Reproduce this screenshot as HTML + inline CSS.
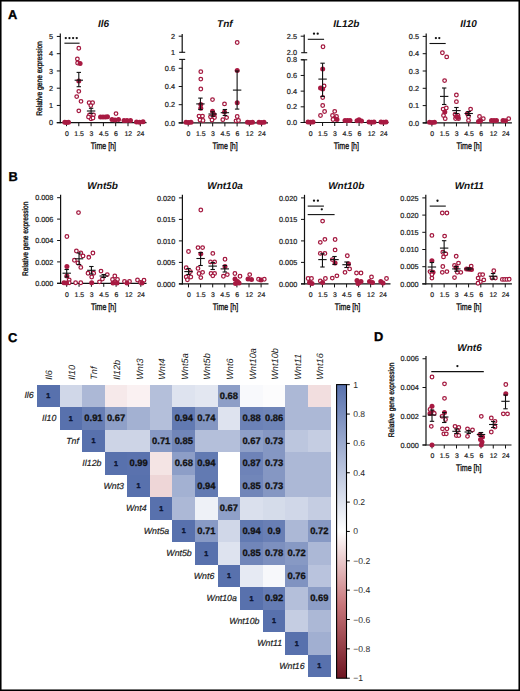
<!DOCTYPE html>
<html><head><meta charset="utf-8"><style>
html,body{margin:0;padding:0;background:#fff;width:520px;height:691px;overflow:hidden;}
svg text{font-family:"Liberation Sans",sans-serif;text-rendering:geometricPrecision;}
</style></head><body>
<svg width="520" height="691" viewBox="0 0 520 691" style="position:absolute;left:0;top:0;font-family:'Liberation Sans',sans-serif">
<rect x="0" y="0" width="520" height="691" fill="#fff"/>
<text transform="translate(8.00,18.80)" font-size="12.8" text-anchor="start" font-weight="bold" font-style="normal" fill="#000" stroke="#000" stroke-width="0.35">A</text>
<text transform="translate(8.40,180.60)" font-size="12.8" text-anchor="start" font-weight="bold" font-style="normal" fill="#000" stroke="#000" stroke-width="0.35">B</text>
<text transform="translate(8.00,341.60)" font-size="12.8" text-anchor="start" font-weight="bold" font-style="normal" fill="#000" stroke="#000" stroke-width="0.35">C</text>
<text transform="translate(374.00,341.40)" font-size="12.8" text-anchor="start" font-weight="bold" font-style="normal" fill="#000" stroke="#000" stroke-width="0.35">D</text>
<line x1="60.30" y1="33.50" x2="60.30" y2="123.20" stroke="#111" stroke-width="1.2"/>
<line x1="56.80" y1="122.70" x2="146.50" y2="122.70" stroke="#111" stroke-width="1.2"/>
<line x1="56.80" y1="122.70" x2="60.30" y2="122.70" stroke="#111" stroke-width="1.0"/>
<text transform="translate(53.10,125.30)" font-size="7.3" text-anchor="end" font-weight="normal" font-style="normal" fill="#222" stroke="#222" stroke-width="0.2">0</text>
<line x1="56.80" y1="105.45" x2="60.30" y2="105.45" stroke="#111" stroke-width="1.0"/>
<text transform="translate(53.10,108.05)" font-size="7.3" text-anchor="end" font-weight="normal" font-style="normal" fill="#222" stroke="#222" stroke-width="0.2">1</text>
<line x1="56.80" y1="88.20" x2="60.30" y2="88.20" stroke="#111" stroke-width="1.0"/>
<text transform="translate(53.10,90.80)" font-size="7.3" text-anchor="end" font-weight="normal" font-style="normal" fill="#222" stroke="#222" stroke-width="0.2">2</text>
<line x1="56.80" y1="70.95" x2="60.30" y2="70.95" stroke="#111" stroke-width="1.0"/>
<text transform="translate(53.10,73.55)" font-size="7.3" text-anchor="end" font-weight="normal" font-style="normal" fill="#222" stroke="#222" stroke-width="0.2">3</text>
<line x1="56.80" y1="53.70" x2="60.30" y2="53.70" stroke="#111" stroke-width="1.0"/>
<text transform="translate(53.10,56.30)" font-size="7.3" text-anchor="end" font-weight="normal" font-style="normal" fill="#222" stroke="#222" stroke-width="0.2">4</text>
<line x1="56.80" y1="36.45" x2="60.30" y2="36.45" stroke="#111" stroke-width="1.0"/>
<text transform="translate(53.10,39.05)" font-size="7.3" text-anchor="end" font-weight="normal" font-style="normal" fill="#222" stroke="#222" stroke-width="0.2">5</text>
<line x1="66.50" y1="122.70" x2="66.50" y2="126.20" stroke="#111" stroke-width="1.0"/>
<text transform="translate(66.80,136.00)" font-size="6.9" text-anchor="middle" font-weight="normal" font-style="normal" fill="#222" stroke="#222" stroke-width="0.2">0</text>
<line x1="78.80" y1="122.70" x2="78.80" y2="126.20" stroke="#111" stroke-width="1.0"/>
<text transform="translate(79.10,136.00)" font-size="6.9" text-anchor="middle" font-weight="normal" font-style="normal" fill="#222" stroke="#222" stroke-width="0.2">1.5</text>
<line x1="91.10" y1="122.70" x2="91.10" y2="126.20" stroke="#111" stroke-width="1.0"/>
<text transform="translate(91.40,136.00)" font-size="6.9" text-anchor="middle" font-weight="normal" font-style="normal" fill="#222" stroke="#222" stroke-width="0.2">3</text>
<line x1="103.40" y1="122.70" x2="103.40" y2="126.20" stroke="#111" stroke-width="1.0"/>
<text transform="translate(103.70,136.00)" font-size="6.9" text-anchor="middle" font-weight="normal" font-style="normal" fill="#222" stroke="#222" stroke-width="0.2">4.5</text>
<line x1="115.70" y1="122.70" x2="115.70" y2="126.20" stroke="#111" stroke-width="1.0"/>
<text transform="translate(116.00,136.00)" font-size="6.9" text-anchor="middle" font-weight="normal" font-style="normal" fill="#222" stroke="#222" stroke-width="0.2">6</text>
<line x1="128.00" y1="122.70" x2="128.00" y2="126.20" stroke="#111" stroke-width="1.0"/>
<text transform="translate(128.30,136.00)" font-size="6.9" text-anchor="middle" font-weight="normal" font-style="normal" fill="#222" stroke="#222" stroke-width="0.2">12</text>
<line x1="140.30" y1="122.70" x2="140.30" y2="126.20" stroke="#111" stroke-width="1.0"/>
<text transform="translate(140.60,136.00)" font-size="6.9" text-anchor="middle" font-weight="normal" font-style="normal" fill="#222" stroke="#222" stroke-width="0.2">24</text>
<text transform="translate(103.40,149.00) scale(0.745,1)" font-size="9.5" text-anchor="middle" font-weight="normal" font-style="normal" fill="#111" stroke="#111" stroke-width="0.35">Time [h]</text>
<text transform="translate(103.50,27.00)" font-size="10" text-anchor="middle" font-weight="bold" font-style="italic" fill="#111" >Il6</text>
<text transform="translate(42.40,78.50) rotate(-90) scale(0.83,1)" font-size="8.0" text-anchor="middle" font-weight="normal" font-style="normal" fill="#111" stroke="#111" stroke-width="0.35">Relative gene expression</text>
<line x1="64.40" y1="43.20" x2="79.60" y2="43.20" stroke="#111" stroke-width="1.1"/>
<circle cx="65.80" cy="38.10" r="1.15" fill="#111"/>
<circle cx="69.45" cy="38.10" r="1.15" fill="#111"/>
<circle cx="73.10" cy="38.10" r="1.15" fill="#111"/>
<circle cx="76.75" cy="38.10" r="1.15" fill="#111"/>
<circle cx="64.80" cy="122.30" r="2.5" fill="#a81a42"/>
<circle cx="66.60" cy="122.50" r="2.5" fill="#a81a42"/>
<circle cx="68.50" cy="122.20" r="2.5" fill="#a81a42"/>
<circle cx="78.80" cy="48.20" r="1.8" fill="#fff" stroke="#a3173e" stroke-width="1.25"/>
<circle cx="77.40" cy="58.90" r="1.8" fill="#fff" stroke="#a3173e" stroke-width="1.25"/>
<circle cx="77.60" cy="63.00" r="1.8" fill="#fff" stroke="#a3173e" stroke-width="1.25"/>
<circle cx="78.80" cy="91.30" r="1.8" fill="#fff" stroke="#a3173e" stroke-width="1.25"/>
<circle cx="76.70" cy="96.60" r="1.8" fill="#fff" stroke="#a3173e" stroke-width="1.25"/>
<circle cx="81.00" cy="101.30" r="1.8" fill="#fff" stroke="#a3173e" stroke-width="1.25"/>
<circle cx="78.80" cy="110.80" r="1.8" fill="#fff" stroke="#a3173e" stroke-width="1.25"/>
<circle cx="80.10" cy="63.40" r="2.5" fill="#a81a42"/>
<circle cx="78.80" cy="81.00" r="2.5" fill="#a81a42"/>
<line x1="74.60" y1="80.20" x2="83.00" y2="80.20" stroke="#111" stroke-width="1.1"/>
<line x1="78.80" y1="72.40" x2="78.80" y2="86.70" stroke="#111" stroke-width="1.1"/>
<line x1="76.60" y1="72.40" x2="81.00" y2="72.40" stroke="#111" stroke-width="1.1"/>
<line x1="76.60" y1="86.70" x2="81.00" y2="86.70" stroke="#111" stroke-width="1.1"/>
<circle cx="89.10" cy="102.70" r="1.8" fill="#fff" stroke="#a3173e" stroke-width="1.25"/>
<circle cx="92.60" cy="102.70" r="1.8" fill="#fff" stroke="#a3173e" stroke-width="1.25"/>
<circle cx="90.80" cy="105.60" r="1.8" fill="#fff" stroke="#a3173e" stroke-width="1.25"/>
<circle cx="89.50" cy="114.80" r="1.8" fill="#fff" stroke="#a3173e" stroke-width="1.25"/>
<circle cx="93.50" cy="114.80" r="1.8" fill="#fff" stroke="#a3173e" stroke-width="1.25"/>
<circle cx="91.00" cy="118.80" r="1.8" fill="#fff" stroke="#a3173e" stroke-width="1.25"/>
<circle cx="88.50" cy="117.00" r="1.8" fill="#fff" stroke="#a3173e" stroke-width="1.25"/>
<circle cx="93.00" cy="118.00" r="1.8" fill="#fff" stroke="#a3173e" stroke-width="1.25"/>
<line x1="86.90" y1="111.00" x2="95.30" y2="111.00" stroke="#111" stroke-width="1.1"/>
<line x1="91.10" y1="108.30" x2="91.10" y2="113.30" stroke="#111" stroke-width="1.1"/>
<line x1="88.90" y1="108.30" x2="93.30" y2="108.30" stroke="#111" stroke-width="1.1"/>
<line x1="88.90" y1="113.30" x2="93.30" y2="113.30" stroke="#111" stroke-width="1.1"/>
<circle cx="100.50" cy="117.00" r="2.5" fill="#a81a42"/>
<circle cx="103.00" cy="117.00" r="2.5" fill="#a81a42"/>
<circle cx="105.50" cy="117.00" r="2.5" fill="#a81a42"/>
<circle cx="107.50" cy="116.70" r="2.5" fill="#a81a42"/>
<circle cx="116.00" cy="113.60" r="1.8" fill="#fff" stroke="#a3173e" stroke-width="1.25"/>
<circle cx="112.00" cy="119.60" r="2.5" fill="#a81a42"/>
<circle cx="115.00" cy="120.00" r="2.5" fill="#a81a42"/>
<circle cx="118.50" cy="119.60" r="2.5" fill="#a81a42"/>
<circle cx="124.00" cy="120.60" r="2.5" fill="#a81a42"/>
<circle cx="127.00" cy="120.60" r="2.5" fill="#a81a42"/>
<circle cx="130.50" cy="120.40" r="2.5" fill="#a81a42"/>
<circle cx="136.50" cy="122.00" r="2.5" fill="#a81a42"/>
<circle cx="139.50" cy="122.20" r="2.5" fill="#a81a42"/>
<circle cx="143.00" cy="121.80" r="2.5" fill="#a81a42"/>
<line x1="182.20" y1="34.00" x2="182.20" y2="52.50" stroke="#111" stroke-width="1.2"/>
<line x1="182.20" y1="59.40" x2="182.20" y2="123.40" stroke="#111" stroke-width="1.2"/>
<line x1="179.20" y1="52.30" x2="185.20" y2="52.30" stroke="#111" stroke-width="1.1"/>
<line x1="179.20" y1="59.40" x2="185.20" y2="59.40" stroke="#111" stroke-width="1.1"/>
<line x1="178.70" y1="36.20" x2="182.20" y2="36.20" stroke="#111" stroke-width="1.0"/>
<text transform="translate(175.00,38.60)" font-size="7.3" text-anchor="end" font-weight="normal" font-style="normal" fill="#222" stroke="#222" stroke-width="0.2">2</text>
<text transform="translate(175.00,54.60)" font-size="7.3" text-anchor="end" font-weight="normal" font-style="normal" fill="#222" stroke="#222" stroke-width="0.2">1</text>
<line x1="178.70" y1="122.90" x2="268.00" y2="122.90" stroke="#111" stroke-width="1.2"/>
<line x1="178.70" y1="122.90" x2="182.20" y2="122.90" stroke="#111" stroke-width="1.0"/>
<text transform="translate(175.00,125.50)" font-size="7.3" text-anchor="end" font-weight="normal" font-style="normal" fill="#222" stroke="#222" stroke-width="0.2">0.0</text>
<line x1="178.70" y1="104.70" x2="182.20" y2="104.70" stroke="#111" stroke-width="1.0"/>
<text transform="translate(175.00,107.30)" font-size="7.3" text-anchor="end" font-weight="normal" font-style="normal" fill="#222" stroke="#222" stroke-width="0.2">0.2</text>
<line x1="178.70" y1="86.50" x2="182.20" y2="86.50" stroke="#111" stroke-width="1.0"/>
<text transform="translate(175.00,89.10)" font-size="7.3" text-anchor="end" font-weight="normal" font-style="normal" fill="#222" stroke="#222" stroke-width="0.2">0.4</text>
<line x1="178.70" y1="68.30" x2="182.20" y2="68.30" stroke="#111" stroke-width="1.0"/>
<text transform="translate(175.00,70.90)" font-size="7.3" text-anchor="end" font-weight="normal" font-style="normal" fill="#222" stroke="#222" stroke-width="0.2">0.6</text>
<line x1="188.20" y1="122.90" x2="188.20" y2="126.40" stroke="#111" stroke-width="1.0"/>
<text transform="translate(188.50,136.00)" font-size="6.9" text-anchor="middle" font-weight="normal" font-style="normal" fill="#222" stroke="#222" stroke-width="0.2">0</text>
<line x1="200.43" y1="122.90" x2="200.43" y2="126.40" stroke="#111" stroke-width="1.0"/>
<text transform="translate(200.73,136.00)" font-size="6.9" text-anchor="middle" font-weight="normal" font-style="normal" fill="#222" stroke="#222" stroke-width="0.2">1.5</text>
<line x1="212.66" y1="122.90" x2="212.66" y2="126.40" stroke="#111" stroke-width="1.0"/>
<text transform="translate(212.96,136.00)" font-size="6.9" text-anchor="middle" font-weight="normal" font-style="normal" fill="#222" stroke="#222" stroke-width="0.2">3</text>
<line x1="224.89" y1="122.90" x2="224.89" y2="126.40" stroke="#111" stroke-width="1.0"/>
<text transform="translate(225.19,136.00)" font-size="6.9" text-anchor="middle" font-weight="normal" font-style="normal" fill="#222" stroke="#222" stroke-width="0.2">4.5</text>
<line x1="237.12" y1="122.90" x2="237.12" y2="126.40" stroke="#111" stroke-width="1.0"/>
<text transform="translate(237.42,136.00)" font-size="6.9" text-anchor="middle" font-weight="normal" font-style="normal" fill="#222" stroke="#222" stroke-width="0.2">6</text>
<line x1="249.35" y1="122.90" x2="249.35" y2="126.40" stroke="#111" stroke-width="1.0"/>
<text transform="translate(249.65,136.00)" font-size="6.9" text-anchor="middle" font-weight="normal" font-style="normal" fill="#222" stroke="#222" stroke-width="0.2">12</text>
<line x1="261.58" y1="122.90" x2="261.58" y2="126.40" stroke="#111" stroke-width="1.0"/>
<text transform="translate(261.88,136.00)" font-size="6.9" text-anchor="middle" font-weight="normal" font-style="normal" fill="#222" stroke="#222" stroke-width="0.2">24</text>
<text transform="translate(225.10,149.00) scale(0.745,1)" font-size="9.5" text-anchor="middle" font-weight="normal" font-style="normal" fill="#111" stroke="#111" stroke-width="0.35">Time [h]</text>
<text transform="translate(224.80,27.00)" font-size="10" text-anchor="middle" font-weight="bold" font-style="italic" fill="#111" >Tnf</text>
<circle cx="186.00" cy="122.30" r="2.5" fill="#a81a42"/>
<circle cx="188.50" cy="122.50" r="2.5" fill="#a81a42"/>
<circle cx="191.00" cy="122.20" r="2.5" fill="#a81a42"/>
<circle cx="200.80" cy="71.70" r="1.8" fill="#fff" stroke="#a3173e" stroke-width="1.25"/>
<circle cx="200.80" cy="79.10" r="1.8" fill="#fff" stroke="#a3173e" stroke-width="1.25"/>
<circle cx="200.80" cy="89.00" r="1.8" fill="#fff" stroke="#a3173e" stroke-width="1.25"/>
<circle cx="199.00" cy="116.10" r="1.8" fill="#fff" stroke="#a3173e" stroke-width="1.25"/>
<circle cx="202.50" cy="116.10" r="1.8" fill="#fff" stroke="#a3173e" stroke-width="1.25"/>
<circle cx="200.00" cy="120.00" r="1.8" fill="#fff" stroke="#a3173e" stroke-width="1.25"/>
<circle cx="203.00" cy="120.50" r="1.8" fill="#fff" stroke="#a3173e" stroke-width="1.25"/>
<circle cx="200.80" cy="104.50" r="2.5" fill="#a81a42"/>
<circle cx="200.80" cy="108.20" r="2.5" fill="#a81a42"/>
<line x1="196.23" y1="103.90" x2="204.63" y2="103.90" stroke="#111" stroke-width="1.1"/>
<line x1="200.43" y1="98.10" x2="200.43" y2="109.50" stroke="#111" stroke-width="1.1"/>
<line x1="198.23" y1="98.10" x2="202.63" y2="98.10" stroke="#111" stroke-width="1.1"/>
<line x1="198.23" y1="109.50" x2="202.63" y2="109.50" stroke="#111" stroke-width="1.1"/>
<circle cx="212.50" cy="99.60" r="1.8" fill="#fff" stroke="#a3173e" stroke-width="1.25"/>
<circle cx="210.50" cy="116.80" r="1.8" fill="#fff" stroke="#a3173e" stroke-width="1.25"/>
<circle cx="214.50" cy="117.50" r="1.8" fill="#fff" stroke="#a3173e" stroke-width="1.25"/>
<circle cx="212.00" cy="120.00" r="1.8" fill="#fff" stroke="#a3173e" stroke-width="1.25"/>
<circle cx="212.50" cy="111.30" r="2.5" fill="#a81a42"/>
<circle cx="214.00" cy="114.50" r="2.5" fill="#a81a42"/>
<line x1="208.46" y1="114.00" x2="216.86" y2="114.00" stroke="#111" stroke-width="1.1"/>
<line x1="212.66" y1="111.80" x2="212.66" y2="116.20" stroke="#111" stroke-width="1.1"/>
<line x1="210.46" y1="111.80" x2="214.86" y2="111.80" stroke="#111" stroke-width="1.1"/>
<line x1="210.46" y1="116.20" x2="214.86" y2="116.20" stroke="#111" stroke-width="1.1"/>
<circle cx="224.50" cy="103.90" r="1.8" fill="#fff" stroke="#a3173e" stroke-width="1.25"/>
<circle cx="226.60" cy="117.60" r="1.8" fill="#fff" stroke="#a3173e" stroke-width="1.25"/>
<circle cx="222.80" cy="119.70" r="1.8" fill="#fff" stroke="#a3173e" stroke-width="1.25"/>
<circle cx="224.50" cy="111.90" r="2.5" fill="#a81a42"/>
<line x1="220.69" y1="112.70" x2="229.09" y2="112.70" stroke="#111" stroke-width="1.1"/>
<line x1="224.89" y1="109.50" x2="224.89" y2="115.50" stroke="#111" stroke-width="1.1"/>
<line x1="222.69" y1="109.50" x2="227.09" y2="109.50" stroke="#111" stroke-width="1.1"/>
<line x1="222.69" y1="115.50" x2="227.09" y2="115.50" stroke="#111" stroke-width="1.1"/>
<circle cx="237.20" cy="42.50" r="1.8" fill="#fff" stroke="#a3173e" stroke-width="1.25"/>
<circle cx="237.20" cy="70.40" r="2.5" fill="#a81a42"/>
<circle cx="237.20" cy="102.80" r="2.5" fill="#a81a42"/>
<circle cx="237.20" cy="116.50" r="1.8" fill="#fff" stroke="#a3173e" stroke-width="1.25"/>
<circle cx="236.00" cy="120.80" r="1.8" fill="#fff" stroke="#a3173e" stroke-width="1.25"/>
<circle cx="238.50" cy="120.50" r="1.8" fill="#fff" stroke="#a3173e" stroke-width="1.25"/>
<line x1="232.92" y1="90.10" x2="241.32" y2="90.10" stroke="#111" stroke-width="1.1"/>
<line x1="237.12" y1="71.00" x2="237.12" y2="109.10" stroke="#111" stroke-width="1.1"/>
<line x1="234.92" y1="71.00" x2="239.32" y2="71.00" stroke="#111" stroke-width="1.1"/>
<line x1="234.92" y1="109.10" x2="239.32" y2="109.10" stroke="#111" stroke-width="1.1"/>
<circle cx="247.50" cy="122.20" r="2.5" fill="#a81a42"/>
<circle cx="250.00" cy="122.50" r="2.5" fill="#a81a42"/>
<circle cx="252.50" cy="122.20" r="2.5" fill="#a81a42"/>
<circle cx="259.00" cy="122.20" r="2.5" fill="#a81a42"/>
<circle cx="261.50" cy="122.50" r="2.5" fill="#a81a42"/>
<circle cx="264.00" cy="122.20" r="2.5" fill="#a81a42"/>
<line x1="304.20" y1="34.50" x2="304.20" y2="52.70" stroke="#111" stroke-width="1.2"/>
<line x1="304.20" y1="59.80" x2="304.20" y2="123.00" stroke="#111" stroke-width="1.2"/>
<line x1="301.20" y1="52.70" x2="307.20" y2="52.70" stroke="#111" stroke-width="1.1"/>
<line x1="301.20" y1="59.80" x2="307.20" y2="59.80" stroke="#111" stroke-width="1.1"/>
<line x1="300.70" y1="36.20" x2="304.20" y2="36.20" stroke="#111" stroke-width="1.0"/>
<text transform="translate(297.00,38.60)" font-size="7.3" text-anchor="end" font-weight="normal" font-style="normal" fill="#222" stroke="#222" stroke-width="0.2">2.5</text>
<text transform="translate(297.00,55.00)" font-size="7.3" text-anchor="end" font-weight="normal" font-style="normal" fill="#222" stroke="#222" stroke-width="0.2">2.0</text>
<line x1="300.70" y1="122.50" x2="388.50" y2="122.50" stroke="#111" stroke-width="1.2"/>
<line x1="300.70" y1="122.50" x2="304.20" y2="122.50" stroke="#111" stroke-width="1.0"/>
<text transform="translate(297.00,125.10)" font-size="7.3" text-anchor="end" font-weight="normal" font-style="normal" fill="#222" stroke="#222" stroke-width="0.2">0.0</text>
<line x1="300.70" y1="106.82" x2="304.20" y2="106.82" stroke="#111" stroke-width="1.0"/>
<text transform="translate(297.00,109.42)" font-size="7.3" text-anchor="end" font-weight="normal" font-style="normal" fill="#222" stroke="#222" stroke-width="0.2">0.2</text>
<line x1="300.70" y1="91.14" x2="304.20" y2="91.14" stroke="#111" stroke-width="1.0"/>
<text transform="translate(297.00,93.74)" font-size="7.3" text-anchor="end" font-weight="normal" font-style="normal" fill="#222" stroke="#222" stroke-width="0.2">0.4</text>
<line x1="300.70" y1="75.46" x2="304.20" y2="75.46" stroke="#111" stroke-width="1.0"/>
<text transform="translate(297.00,78.06)" font-size="7.3" text-anchor="end" font-weight="normal" font-style="normal" fill="#222" stroke="#222" stroke-width="0.2">0.6</text>
<line x1="300.70" y1="59.78" x2="304.20" y2="59.78" stroke="#111" stroke-width="1.0"/>
<text transform="translate(297.00,62.38)" font-size="7.3" text-anchor="end" font-weight="normal" font-style="normal" fill="#222" stroke="#222" stroke-width="0.2">0.8</text>
<line x1="310.40" y1="122.50" x2="310.40" y2="126.00" stroke="#111" stroke-width="1.0"/>
<text transform="translate(310.70,136.00)" font-size="6.9" text-anchor="middle" font-weight="normal" font-style="normal" fill="#222" stroke="#222" stroke-width="0.2">0</text>
<line x1="322.57" y1="122.50" x2="322.57" y2="126.00" stroke="#111" stroke-width="1.0"/>
<text transform="translate(322.87,136.00)" font-size="6.9" text-anchor="middle" font-weight="normal" font-style="normal" fill="#222" stroke="#222" stroke-width="0.2">1.5</text>
<line x1="334.74" y1="122.50" x2="334.74" y2="126.00" stroke="#111" stroke-width="1.0"/>
<text transform="translate(335.04,136.00)" font-size="6.9" text-anchor="middle" font-weight="normal" font-style="normal" fill="#222" stroke="#222" stroke-width="0.2">3</text>
<line x1="346.91" y1="122.50" x2="346.91" y2="126.00" stroke="#111" stroke-width="1.0"/>
<text transform="translate(347.21,136.00)" font-size="6.9" text-anchor="middle" font-weight="normal" font-style="normal" fill="#222" stroke="#222" stroke-width="0.2">4.5</text>
<line x1="359.08" y1="122.50" x2="359.08" y2="126.00" stroke="#111" stroke-width="1.0"/>
<text transform="translate(359.38,136.00)" font-size="6.9" text-anchor="middle" font-weight="normal" font-style="normal" fill="#222" stroke="#222" stroke-width="0.2">6</text>
<line x1="371.25" y1="122.50" x2="371.25" y2="126.00" stroke="#111" stroke-width="1.0"/>
<text transform="translate(371.55,136.00)" font-size="6.9" text-anchor="middle" font-weight="normal" font-style="normal" fill="#222" stroke="#222" stroke-width="0.2">12</text>
<line x1="383.42" y1="122.50" x2="383.42" y2="126.00" stroke="#111" stroke-width="1.0"/>
<text transform="translate(383.72,136.00)" font-size="6.9" text-anchor="middle" font-weight="normal" font-style="normal" fill="#222" stroke="#222" stroke-width="0.2">24</text>
<text transform="translate(346.35,149.00) scale(0.745,1)" font-size="9.5" text-anchor="middle" font-weight="normal" font-style="normal" fill="#111" stroke="#111" stroke-width="0.35">Time [h]</text>
<text transform="translate(346.30,27.00)" font-size="10" text-anchor="middle" font-weight="bold" font-style="italic" fill="#111" >IL12b</text>
<line x1="307.80" y1="39.30" x2="324.10" y2="39.30" stroke="#111" stroke-width="1.1"/>
<circle cx="314.00" cy="33.70" r="1.15" fill="#111"/>
<circle cx="317.70" cy="33.70" r="1.15" fill="#111"/>
<circle cx="308.00" cy="122.10" r="2.5" fill="#a81a42"/>
<circle cx="310.50" cy="122.30" r="2.5" fill="#a81a42"/>
<circle cx="313.00" cy="122.10" r="2.5" fill="#a81a42"/>
<circle cx="323.00" cy="46.70" r="1.8" fill="#fff" stroke="#a3173e" stroke-width="1.25"/>
<circle cx="324.10" cy="85.90" r="1.8" fill="#fff" stroke="#a3173e" stroke-width="1.25"/>
<circle cx="322.70" cy="97.50" r="1.8" fill="#fff" stroke="#a3173e" stroke-width="1.25"/>
<circle cx="322.70" cy="105.50" r="1.8" fill="#fff" stroke="#a3173e" stroke-width="1.25"/>
<circle cx="324.60" cy="111.50" r="1.8" fill="#fff" stroke="#a3173e" stroke-width="1.25"/>
<circle cx="320.50" cy="115.50" r="1.8" fill="#fff" stroke="#a3173e" stroke-width="1.25"/>
<circle cx="322.70" cy="69.00" r="2.5" fill="#a81a42"/>
<circle cx="320.50" cy="88.00" r="2.5" fill="#a81a42"/>
<circle cx="322.70" cy="89.00" r="2.5" fill="#a81a42"/>
<line x1="318.37" y1="79.10" x2="326.77" y2="79.10" stroke="#111" stroke-width="1.1"/>
<line x1="322.57" y1="63.20" x2="322.57" y2="96.50" stroke="#111" stroke-width="1.1"/>
<line x1="320.37" y1="63.20" x2="324.77" y2="63.20" stroke="#111" stroke-width="1.1"/>
<line x1="320.37" y1="96.50" x2="324.77" y2="96.50" stroke="#111" stroke-width="1.1"/>
<circle cx="334.70" cy="111.30" r="1.8" fill="#fff" stroke="#a3173e" stroke-width="1.25"/>
<circle cx="332.50" cy="115.50" r="1.8" fill="#fff" stroke="#a3173e" stroke-width="1.25"/>
<circle cx="336.50" cy="116.50" r="1.8" fill="#fff" stroke="#a3173e" stroke-width="1.25"/>
<circle cx="334.50" cy="118.50" r="2.5" fill="#a81a42"/>
<circle cx="337.00" cy="119.50" r="2.5" fill="#a81a42"/>
<circle cx="333.00" cy="119.50" r="1.8" fill="#fff" stroke="#a3173e" stroke-width="1.25"/>
<circle cx="345.00" cy="120.60" r="2.5" fill="#a81a42"/>
<circle cx="347.50" cy="120.60" r="2.5" fill="#a81a42"/>
<circle cx="350.00" cy="120.40" r="2.5" fill="#a81a42"/>
<circle cx="357.00" cy="120.80" r="2.5" fill="#a81a42"/>
<circle cx="359.00" cy="119.80" r="2.5" fill="#a81a42"/>
<circle cx="361.50" cy="121.00" r="2.5" fill="#a81a42"/>
<circle cx="369.00" cy="122.00" r="2.5" fill="#a81a42"/>
<circle cx="371.50" cy="122.20" r="2.5" fill="#a81a42"/>
<circle cx="374.00" cy="122.00" r="2.5" fill="#a81a42"/>
<circle cx="381.00" cy="122.00" r="2.5" fill="#a81a42"/>
<circle cx="383.50" cy="122.20" r="2.5" fill="#a81a42"/>
<circle cx="386.00" cy="122.00" r="2.5" fill="#a81a42"/>
<line x1="426.20" y1="33.60" x2="426.20" y2="123.40" stroke="#111" stroke-width="1.2"/>
<line x1="422.70" y1="122.90" x2="511.90" y2="122.90" stroke="#111" stroke-width="1.2"/>
<line x1="422.70" y1="122.90" x2="426.20" y2="122.90" stroke="#111" stroke-width="1.0"/>
<text transform="translate(419.00,125.50)" font-size="7.3" text-anchor="end" font-weight="normal" font-style="normal" fill="#222" stroke="#222" stroke-width="0.2">0.0</text>
<line x1="422.70" y1="105.60" x2="426.20" y2="105.60" stroke="#111" stroke-width="1.0"/>
<text transform="translate(419.00,108.20)" font-size="7.3" text-anchor="end" font-weight="normal" font-style="normal" fill="#222" stroke="#222" stroke-width="0.2">0.1</text>
<line x1="422.70" y1="88.30" x2="426.20" y2="88.30" stroke="#111" stroke-width="1.0"/>
<text transform="translate(419.00,90.90)" font-size="7.3" text-anchor="end" font-weight="normal" font-style="normal" fill="#222" stroke="#222" stroke-width="0.2">0.2</text>
<line x1="422.70" y1="71.00" x2="426.20" y2="71.00" stroke="#111" stroke-width="1.0"/>
<text transform="translate(419.00,73.60)" font-size="7.3" text-anchor="end" font-weight="normal" font-style="normal" fill="#222" stroke="#222" stroke-width="0.2">0.3</text>
<line x1="422.70" y1="53.70" x2="426.20" y2="53.70" stroke="#111" stroke-width="1.0"/>
<text transform="translate(419.00,56.30)" font-size="7.3" text-anchor="end" font-weight="normal" font-style="normal" fill="#222" stroke="#222" stroke-width="0.2">0.4</text>
<line x1="422.70" y1="36.40" x2="426.20" y2="36.40" stroke="#111" stroke-width="1.0"/>
<text transform="translate(419.00,39.00)" font-size="7.3" text-anchor="end" font-weight="normal" font-style="normal" fill="#222" stroke="#222" stroke-width="0.2">0.5</text>
<line x1="431.90" y1="122.90" x2="431.90" y2="126.40" stroke="#111" stroke-width="1.0"/>
<text transform="translate(432.20,136.00)" font-size="6.9" text-anchor="middle" font-weight="normal" font-style="normal" fill="#222" stroke="#222" stroke-width="0.2">0</text>
<line x1="444.17" y1="122.90" x2="444.17" y2="126.40" stroke="#111" stroke-width="1.0"/>
<text transform="translate(444.47,136.00)" font-size="6.9" text-anchor="middle" font-weight="normal" font-style="normal" fill="#222" stroke="#222" stroke-width="0.2">1.5</text>
<line x1="456.44" y1="122.90" x2="456.44" y2="126.40" stroke="#111" stroke-width="1.0"/>
<text transform="translate(456.74,136.00)" font-size="6.9" text-anchor="middle" font-weight="normal" font-style="normal" fill="#222" stroke="#222" stroke-width="0.2">3</text>
<line x1="468.71" y1="122.90" x2="468.71" y2="126.40" stroke="#111" stroke-width="1.0"/>
<text transform="translate(469.01,136.00)" font-size="6.9" text-anchor="middle" font-weight="normal" font-style="normal" fill="#222" stroke="#222" stroke-width="0.2">4.5</text>
<line x1="480.98" y1="122.90" x2="480.98" y2="126.40" stroke="#111" stroke-width="1.0"/>
<text transform="translate(481.28,136.00)" font-size="6.9" text-anchor="middle" font-weight="normal" font-style="normal" fill="#222" stroke="#222" stroke-width="0.2">6</text>
<line x1="493.25" y1="122.90" x2="493.25" y2="126.40" stroke="#111" stroke-width="1.0"/>
<text transform="translate(493.55,136.00)" font-size="6.9" text-anchor="middle" font-weight="normal" font-style="normal" fill="#222" stroke="#222" stroke-width="0.2">12</text>
<line x1="505.52" y1="122.90" x2="505.52" y2="126.40" stroke="#111" stroke-width="1.0"/>
<text transform="translate(505.82,136.00)" font-size="6.9" text-anchor="middle" font-weight="normal" font-style="normal" fill="#222" stroke="#222" stroke-width="0.2">24</text>
<text transform="translate(469.05,149.00) scale(0.745,1)" font-size="9.5" text-anchor="middle" font-weight="normal" font-style="normal" fill="#111" stroke="#111" stroke-width="0.35">Time [h]</text>
<text transform="translate(468.50,27.00)" font-size="10" text-anchor="middle" font-weight="bold" font-style="italic" fill="#111" >Il10</text>
<line x1="429.50" y1="43.50" x2="445.70" y2="43.50" stroke="#111" stroke-width="1.1"/>
<circle cx="435.90" cy="38.10" r="1.15" fill="#111"/>
<circle cx="439.30" cy="38.10" r="1.15" fill="#111"/>
<circle cx="429.50" cy="122.30" r="2.5" fill="#a81a42"/>
<circle cx="432.00" cy="122.50" r="2.5" fill="#a81a42"/>
<circle cx="434.50" cy="122.20" r="2.5" fill="#a81a42"/>
<circle cx="442.40" cy="52.70" r="1.8" fill="#fff" stroke="#a3173e" stroke-width="1.25"/>
<circle cx="446.70" cy="56.90" r="1.8" fill="#fff" stroke="#a3173e" stroke-width="1.25"/>
<circle cx="444.60" cy="80.60" r="1.8" fill="#fff" stroke="#a3173e" stroke-width="1.25"/>
<circle cx="443.10" cy="109.10" r="1.8" fill="#fff" stroke="#a3173e" stroke-width="1.25"/>
<circle cx="446.30" cy="108.00" r="1.8" fill="#fff" stroke="#a3173e" stroke-width="1.25"/>
<circle cx="443.50" cy="115.50" r="1.8" fill="#fff" stroke="#a3173e" stroke-width="1.25"/>
<circle cx="445.20" cy="118.70" r="1.8" fill="#fff" stroke="#a3173e" stroke-width="1.25"/>
<circle cx="444.80" cy="112.00" r="2.5" fill="#a81a42"/>
<line x1="439.97" y1="96.40" x2="448.37" y2="96.40" stroke="#111" stroke-width="1.1"/>
<line x1="444.17" y1="88.00" x2="444.17" y2="104.50" stroke="#111" stroke-width="1.1"/>
<line x1="441.97" y1="88.00" x2="446.37" y2="88.00" stroke="#111" stroke-width="1.1"/>
<line x1="441.97" y1="104.50" x2="446.37" y2="104.50" stroke="#111" stroke-width="1.1"/>
<circle cx="456.40" cy="95.00" r="1.8" fill="#fff" stroke="#a3173e" stroke-width="1.25"/>
<circle cx="456.40" cy="101.70" r="1.8" fill="#fff" stroke="#a3173e" stroke-width="1.25"/>
<circle cx="455.00" cy="114.50" r="1.8" fill="#fff" stroke="#a3173e" stroke-width="1.25"/>
<circle cx="458.00" cy="115.50" r="1.8" fill="#fff" stroke="#a3173e" stroke-width="1.25"/>
<circle cx="455.50" cy="118.50" r="1.8" fill="#fff" stroke="#a3173e" stroke-width="1.25"/>
<circle cx="458.50" cy="118.70" r="1.8" fill="#fff" stroke="#a3173e" stroke-width="1.25"/>
<circle cx="456.40" cy="116.50" r="2.5" fill="#a81a42"/>
<circle cx="458.00" cy="117.50" r="2.5" fill="#a81a42"/>
<line x1="452.24" y1="110.60" x2="460.64" y2="110.60" stroke="#111" stroke-width="1.1"/>
<line x1="456.44" y1="107.50" x2="456.44" y2="113.50" stroke="#111" stroke-width="1.1"/>
<line x1="454.24" y1="107.50" x2="458.64" y2="107.50" stroke="#111" stroke-width="1.1"/>
<line x1="454.24" y1="113.50" x2="458.64" y2="113.50" stroke="#111" stroke-width="1.1"/>
<circle cx="470.60" cy="109.10" r="1.8" fill="#fff" stroke="#a3173e" stroke-width="1.25"/>
<circle cx="467.40" cy="113.40" r="2.5" fill="#a81a42"/>
<circle cx="468.50" cy="116.50" r="1.8" fill="#fff" stroke="#a3173e" stroke-width="1.25"/>
<circle cx="468.50" cy="120.40" r="1.8" fill="#fff" stroke="#a3173e" stroke-width="1.25"/>
<line x1="464.51" y1="113.50" x2="472.91" y2="113.50" stroke="#111" stroke-width="1.1"/>
<line x1="468.71" y1="111.50" x2="468.71" y2="115.50" stroke="#111" stroke-width="1.1"/>
<line x1="466.51" y1="111.50" x2="470.91" y2="111.50" stroke="#111" stroke-width="1.1"/>
<line x1="466.51" y1="115.50" x2="470.91" y2="115.50" stroke="#111" stroke-width="1.1"/>
<circle cx="479.50" cy="116.50" r="1.8" fill="#fff" stroke="#a3173e" stroke-width="1.25"/>
<circle cx="483.30" cy="118.70" r="1.8" fill="#fff" stroke="#a3173e" stroke-width="1.25"/>
<circle cx="480.50" cy="120.80" r="2.5" fill="#a81a42"/>
<circle cx="478.50" cy="121.50" r="2.5" fill="#a81a42"/>
<circle cx="491.50" cy="120.60" r="2.5" fill="#a81a42"/>
<circle cx="494.00" cy="120.40" r="2.5" fill="#a81a42"/>
<circle cx="496.50" cy="120.40" r="2.5" fill="#a81a42"/>
<circle cx="508.70" cy="118.70" r="1.8" fill="#fff" stroke="#a3173e" stroke-width="1.25"/>
<circle cx="503.00" cy="120.60" r="2.5" fill="#a81a42"/>
<circle cx="505.50" cy="120.80" r="2.5" fill="#a81a42"/>
<line x1="60.60" y1="194.70" x2="60.60" y2="283.80" stroke="#111" stroke-width="1.2"/>
<line x1="57.10" y1="283.30" x2="146.50" y2="283.30" stroke="#111" stroke-width="1.2"/>
<line x1="57.10" y1="283.30" x2="60.60" y2="283.30" stroke="#111" stroke-width="1.0"/>
<text transform="translate(53.40,285.90)" font-size="7.3" text-anchor="end" font-weight="normal" font-style="normal" fill="#222" stroke="#222" stroke-width="0.2">0.000</text>
<line x1="57.10" y1="261.90" x2="60.60" y2="261.90" stroke="#111" stroke-width="1.0"/>
<text transform="translate(53.40,264.50)" font-size="7.3" text-anchor="end" font-weight="normal" font-style="normal" fill="#222" stroke="#222" stroke-width="0.2">0.002</text>
<line x1="57.10" y1="240.50" x2="60.60" y2="240.50" stroke="#111" stroke-width="1.0"/>
<text transform="translate(53.40,243.10)" font-size="7.3" text-anchor="end" font-weight="normal" font-style="normal" fill="#222" stroke="#222" stroke-width="0.2">0.004</text>
<line x1="57.10" y1="219.10" x2="60.60" y2="219.10" stroke="#111" stroke-width="1.0"/>
<text transform="translate(53.40,221.70)" font-size="7.3" text-anchor="end" font-weight="normal" font-style="normal" fill="#222" stroke="#222" stroke-width="0.2">0.006</text>
<line x1="57.10" y1="197.70" x2="60.60" y2="197.70" stroke="#111" stroke-width="1.0"/>
<text transform="translate(53.40,200.30)" font-size="7.3" text-anchor="end" font-weight="normal" font-style="normal" fill="#222" stroke="#222" stroke-width="0.2">0.008</text>
<line x1="66.70" y1="283.30" x2="66.70" y2="286.80" stroke="#111" stroke-width="1.0"/>
<text transform="translate(67.00,296.70)" font-size="6.9" text-anchor="middle" font-weight="normal" font-style="normal" fill="#222" stroke="#222" stroke-width="0.2">0</text>
<line x1="79.05" y1="283.30" x2="79.05" y2="286.80" stroke="#111" stroke-width="1.0"/>
<text transform="translate(79.35,296.70)" font-size="6.9" text-anchor="middle" font-weight="normal" font-style="normal" fill="#222" stroke="#222" stroke-width="0.2">1.5</text>
<line x1="91.40" y1="283.30" x2="91.40" y2="286.80" stroke="#111" stroke-width="1.0"/>
<text transform="translate(91.70,296.70)" font-size="6.9" text-anchor="middle" font-weight="normal" font-style="normal" fill="#222" stroke="#222" stroke-width="0.2">3</text>
<line x1="103.75" y1="283.30" x2="103.75" y2="286.80" stroke="#111" stroke-width="1.0"/>
<text transform="translate(104.05,296.70)" font-size="6.9" text-anchor="middle" font-weight="normal" font-style="normal" fill="#222" stroke="#222" stroke-width="0.2">4.5</text>
<line x1="116.10" y1="283.30" x2="116.10" y2="286.80" stroke="#111" stroke-width="1.0"/>
<text transform="translate(116.40,296.70)" font-size="6.9" text-anchor="middle" font-weight="normal" font-style="normal" fill="#222" stroke="#222" stroke-width="0.2">6</text>
<line x1="128.45" y1="283.30" x2="128.45" y2="286.80" stroke="#111" stroke-width="1.0"/>
<text transform="translate(128.75,296.70)" font-size="6.9" text-anchor="middle" font-weight="normal" font-style="normal" fill="#222" stroke="#222" stroke-width="0.2">12</text>
<line x1="140.80" y1="283.30" x2="140.80" y2="286.80" stroke="#111" stroke-width="1.0"/>
<text transform="translate(141.10,296.70)" font-size="6.9" text-anchor="middle" font-weight="normal" font-style="normal" fill="#222" stroke="#222" stroke-width="0.2">24</text>
<text transform="translate(103.55,309.70) scale(0.745,1)" font-size="9.5" text-anchor="middle" font-weight="normal" font-style="normal" fill="#111" stroke="#111" stroke-width="0.35">Time [h]</text>
<text transform="translate(102.60,189.00)" font-size="10" text-anchor="middle" font-weight="bold" font-style="italic" fill="#111" >Wnt5b</text>
<text transform="translate(27.90,238.80) rotate(-90) scale(0.83,1)" font-size="8.0" text-anchor="middle" font-weight="normal" font-style="normal" fill="#111" stroke="#111" stroke-width="0.35">Relative gene expression</text>
<circle cx="66.90" cy="236.50" r="1.8" fill="#fff" stroke="#a3173e" stroke-width="1.25"/>
<circle cx="66.90" cy="266.50" r="2.5" fill="#a81a42"/>
<circle cx="66.90" cy="276.00" r="2.5" fill="#a81a42"/>
<circle cx="69.20" cy="279.80" r="1.8" fill="#fff" stroke="#a3173e" stroke-width="1.25"/>
<circle cx="64.00" cy="282.70" r="2.5" fill="#a81a42"/>
<circle cx="69.20" cy="282.70" r="1.8" fill="#fff" stroke="#a3173e" stroke-width="1.25"/>
<circle cx="66.50" cy="283.00" r="2.5" fill="#a81a42"/>
<line x1="62.50" y1="273.20" x2="70.90" y2="273.20" stroke="#111" stroke-width="1.1"/>
<line x1="66.70" y1="269.50" x2="66.70" y2="277.00" stroke="#111" stroke-width="1.1"/>
<line x1="64.50" y1="269.50" x2="68.90" y2="269.50" stroke="#111" stroke-width="1.1"/>
<line x1="64.50" y1="277.00" x2="68.90" y2="277.00" stroke="#111" stroke-width="1.1"/>
<circle cx="78.50" cy="212.60" r="1.8" fill="#fff" stroke="#a3173e" stroke-width="1.25"/>
<circle cx="76.40" cy="251.00" r="1.8" fill="#fff" stroke="#a3173e" stroke-width="1.25"/>
<circle cx="80.80" cy="253.00" r="1.8" fill="#fff" stroke="#a3173e" stroke-width="1.25"/>
<circle cx="83.00" cy="255.90" r="1.8" fill="#fff" stroke="#a3173e" stroke-width="1.25"/>
<circle cx="74.40" cy="260.20" r="1.8" fill="#fff" stroke="#a3173e" stroke-width="1.25"/>
<circle cx="77.90" cy="263.00" r="1.8" fill="#fff" stroke="#a3173e" stroke-width="1.25"/>
<circle cx="80.80" cy="267.40" r="1.8" fill="#fff" stroke="#a3173e" stroke-width="1.25"/>
<circle cx="75.60" cy="282.70" r="1.8" fill="#fff" stroke="#a3173e" stroke-width="1.25"/>
<circle cx="80.80" cy="282.70" r="1.8" fill="#fff" stroke="#a3173e" stroke-width="1.25"/>
<line x1="74.85" y1="258.80" x2="83.25" y2="258.80" stroke="#111" stroke-width="1.1"/>
<line x1="79.05" y1="253.00" x2="79.05" y2="264.50" stroke="#111" stroke-width="1.1"/>
<line x1="76.85" y1="253.00" x2="81.25" y2="253.00" stroke="#111" stroke-width="1.1"/>
<line x1="76.85" y1="264.50" x2="81.25" y2="264.50" stroke="#111" stroke-width="1.1"/>
<circle cx="92.90" cy="253.00" r="1.8" fill="#fff" stroke="#a3173e" stroke-width="1.25"/>
<circle cx="88.80" cy="257.30" r="1.8" fill="#fff" stroke="#a3173e" stroke-width="1.25"/>
<circle cx="88.00" cy="273.20" r="1.8" fill="#fff" stroke="#a3173e" stroke-width="1.25"/>
<circle cx="93.70" cy="273.20" r="1.8" fill="#fff" stroke="#a3173e" stroke-width="1.25"/>
<circle cx="91.70" cy="277.00" r="1.8" fill="#fff" stroke="#a3173e" stroke-width="1.25"/>
<circle cx="91.70" cy="282.70" r="2.5" fill="#a81a42"/>
<line x1="87.20" y1="270.30" x2="95.60" y2="270.30" stroke="#111" stroke-width="1.1"/>
<line x1="91.40" y1="266.50" x2="91.40" y2="274.00" stroke="#111" stroke-width="1.1"/>
<line x1="89.20" y1="266.50" x2="93.60" y2="266.50" stroke="#111" stroke-width="1.1"/>
<line x1="89.20" y1="274.00" x2="93.60" y2="274.00" stroke="#111" stroke-width="1.1"/>
<circle cx="101.00" cy="271.10" r="1.8" fill="#fff" stroke="#a3173e" stroke-width="1.25"/>
<circle cx="107.30" cy="274.60" r="1.8" fill="#fff" stroke="#a3173e" stroke-width="1.25"/>
<circle cx="102.40" cy="279.00" r="1.8" fill="#fff" stroke="#a3173e" stroke-width="1.25"/>
<circle cx="99.50" cy="281.80" r="1.8" fill="#fff" stroke="#a3173e" stroke-width="1.25"/>
<line x1="99.55" y1="276.00" x2="107.95" y2="276.00" stroke="#111" stroke-width="1.1"/>
<line x1="103.75" y1="274.50" x2="103.75" y2="277.50" stroke="#111" stroke-width="1.1"/>
<line x1="101.55" y1="274.50" x2="105.95" y2="274.50" stroke="#111" stroke-width="1.1"/>
<line x1="101.55" y1="277.50" x2="105.95" y2="277.50" stroke="#111" stroke-width="1.1"/>
<circle cx="114.80" cy="276.00" r="1.8" fill="#fff" stroke="#a3173e" stroke-width="1.25"/>
<circle cx="112.50" cy="279.50" r="1.8" fill="#fff" stroke="#a3173e" stroke-width="1.25"/>
<circle cx="117.50" cy="279.50" r="1.8" fill="#fff" stroke="#a3173e" stroke-width="1.25"/>
<circle cx="115.00" cy="282.00" r="1.8" fill="#fff" stroke="#a3173e" stroke-width="1.25"/>
<circle cx="113.00" cy="283.00" r="2.5" fill="#a81a42"/>
<circle cx="117.00" cy="283.00" r="2.5" fill="#a81a42"/>
<circle cx="124.50" cy="281.50" r="1.8" fill="#fff" stroke="#a3173e" stroke-width="1.25"/>
<circle cx="129.50" cy="281.50" r="1.8" fill="#fff" stroke="#a3173e" stroke-width="1.25"/>
<circle cx="127.00" cy="283.00" r="2.5" fill="#a81a42"/>
<circle cx="137.50" cy="280.00" r="1.8" fill="#fff" stroke="#a3173e" stroke-width="1.25"/>
<circle cx="144.00" cy="280.20" r="1.8" fill="#fff" stroke="#a3173e" stroke-width="1.25"/>
<circle cx="140.50" cy="282.50" r="1.8" fill="#fff" stroke="#a3173e" stroke-width="1.25"/>
<circle cx="142.00" cy="283.00" r="2.5" fill="#a81a42"/>
<line x1="182.40" y1="194.80" x2="182.40" y2="284.40" stroke="#111" stroke-width="1.2"/>
<line x1="178.90" y1="283.90" x2="268.50" y2="283.90" stroke="#111" stroke-width="1.2"/>
<line x1="178.90" y1="283.90" x2="182.40" y2="283.90" stroke="#111" stroke-width="1.0"/>
<text transform="translate(175.20,286.50)" font-size="7.3" text-anchor="end" font-weight="normal" font-style="normal" fill="#222" stroke="#222" stroke-width="0.2">0.000</text>
<line x1="178.90" y1="262.40" x2="182.40" y2="262.40" stroke="#111" stroke-width="1.0"/>
<text transform="translate(175.20,265.00)" font-size="7.3" text-anchor="end" font-weight="normal" font-style="normal" fill="#222" stroke="#222" stroke-width="0.2">0.005</text>
<line x1="178.90" y1="240.90" x2="182.40" y2="240.90" stroke="#111" stroke-width="1.0"/>
<text transform="translate(175.20,243.50)" font-size="7.3" text-anchor="end" font-weight="normal" font-style="normal" fill="#222" stroke="#222" stroke-width="0.2">0.010</text>
<line x1="178.90" y1="219.40" x2="182.40" y2="219.40" stroke="#111" stroke-width="1.0"/>
<text transform="translate(175.20,222.00)" font-size="7.3" text-anchor="end" font-weight="normal" font-style="normal" fill="#222" stroke="#222" stroke-width="0.2">0.015</text>
<line x1="178.90" y1="197.90" x2="182.40" y2="197.90" stroke="#111" stroke-width="1.0"/>
<text transform="translate(175.20,200.50)" font-size="7.3" text-anchor="end" font-weight="normal" font-style="normal" fill="#222" stroke="#222" stroke-width="0.2">0.020</text>
<line x1="188.50" y1="283.90" x2="188.50" y2="287.40" stroke="#111" stroke-width="1.0"/>
<text transform="translate(188.80,296.70)" font-size="6.9" text-anchor="middle" font-weight="normal" font-style="normal" fill="#222" stroke="#222" stroke-width="0.2">0</text>
<line x1="200.60" y1="283.90" x2="200.60" y2="287.40" stroke="#111" stroke-width="1.0"/>
<text transform="translate(200.90,296.70)" font-size="6.9" text-anchor="middle" font-weight="normal" font-style="normal" fill="#222" stroke="#222" stroke-width="0.2">1.5</text>
<line x1="212.70" y1="283.90" x2="212.70" y2="287.40" stroke="#111" stroke-width="1.0"/>
<text transform="translate(213.00,296.70)" font-size="6.9" text-anchor="middle" font-weight="normal" font-style="normal" fill="#222" stroke="#222" stroke-width="0.2">3</text>
<line x1="224.80" y1="283.90" x2="224.80" y2="287.40" stroke="#111" stroke-width="1.0"/>
<text transform="translate(225.10,296.70)" font-size="6.9" text-anchor="middle" font-weight="normal" font-style="normal" fill="#222" stroke="#222" stroke-width="0.2">4.5</text>
<line x1="236.90" y1="283.90" x2="236.90" y2="287.40" stroke="#111" stroke-width="1.0"/>
<text transform="translate(237.20,296.70)" font-size="6.9" text-anchor="middle" font-weight="normal" font-style="normal" fill="#222" stroke="#222" stroke-width="0.2">6</text>
<line x1="249.00" y1="283.90" x2="249.00" y2="287.40" stroke="#111" stroke-width="1.0"/>
<text transform="translate(249.30,296.70)" font-size="6.9" text-anchor="middle" font-weight="normal" font-style="normal" fill="#222" stroke="#222" stroke-width="0.2">12</text>
<line x1="261.10" y1="283.90" x2="261.10" y2="287.40" stroke="#111" stroke-width="1.0"/>
<text transform="translate(261.40,296.70)" font-size="6.9" text-anchor="middle" font-weight="normal" font-style="normal" fill="#222" stroke="#222" stroke-width="0.2">24</text>
<text transform="translate(225.45,309.70) scale(0.745,1)" font-size="9.5" text-anchor="middle" font-weight="normal" font-style="normal" fill="#111" stroke="#111" stroke-width="0.35">Time [h]</text>
<text transform="translate(225.00,189.00)" font-size="10" text-anchor="middle" font-weight="bold" font-style="italic" fill="#111" >Wnt10a</text>
<circle cx="188.50" cy="251.50" r="1.8" fill="#fff" stroke="#a3173e" stroke-width="1.25"/>
<circle cx="186.20" cy="267.70" r="1.8" fill="#fff" stroke="#a3173e" stroke-width="1.25"/>
<circle cx="190.40" cy="271.60" r="1.8" fill="#fff" stroke="#a3173e" stroke-width="1.25"/>
<circle cx="186.20" cy="277.00" r="1.8" fill="#fff" stroke="#a3173e" stroke-width="1.25"/>
<circle cx="190.80" cy="277.00" r="1.8" fill="#fff" stroke="#a3173e" stroke-width="1.25"/>
<circle cx="187.40" cy="279.70" r="1.8" fill="#fff" stroke="#a3173e" stroke-width="1.25"/>
<line x1="184.30" y1="271.60" x2="192.70" y2="271.60" stroke="#111" stroke-width="1.1"/>
<line x1="188.50" y1="268.50" x2="188.50" y2="274.50" stroke="#111" stroke-width="1.1"/>
<line x1="186.30" y1="268.50" x2="190.70" y2="268.50" stroke="#111" stroke-width="1.1"/>
<line x1="186.30" y1="274.50" x2="190.70" y2="274.50" stroke="#111" stroke-width="1.1"/>
<circle cx="200.80" cy="210.00" r="1.8" fill="#fff" stroke="#a3173e" stroke-width="1.25"/>
<circle cx="198.00" cy="247.60" r="1.8" fill="#fff" stroke="#a3173e" stroke-width="1.25"/>
<circle cx="202.60" cy="247.60" r="1.8" fill="#fff" stroke="#a3173e" stroke-width="1.25"/>
<circle cx="198.00" cy="268.40" r="1.8" fill="#fff" stroke="#a3173e" stroke-width="1.25"/>
<circle cx="202.60" cy="272.30" r="1.8" fill="#fff" stroke="#a3173e" stroke-width="1.25"/>
<circle cx="199.00" cy="273.50" r="1.8" fill="#fff" stroke="#a3173e" stroke-width="1.25"/>
<circle cx="200.80" cy="277.60" r="1.8" fill="#fff" stroke="#a3173e" stroke-width="1.25"/>
<circle cx="200.80" cy="253.90" r="2.5" fill="#a81a42"/>
<line x1="196.40" y1="258.50" x2="204.80" y2="258.50" stroke="#111" stroke-width="1.1"/>
<line x1="200.60" y1="252.50" x2="200.60" y2="265.50" stroke="#111" stroke-width="1.1"/>
<line x1="198.40" y1="252.50" x2="202.80" y2="252.50" stroke="#111" stroke-width="1.1"/>
<line x1="198.40" y1="265.50" x2="202.80" y2="265.50" stroke="#111" stroke-width="1.1"/>
<circle cx="212.80" cy="253.40" r="1.8" fill="#fff" stroke="#a3173e" stroke-width="1.25"/>
<circle cx="210.50" cy="261.90" r="1.8" fill="#fff" stroke="#a3173e" stroke-width="1.25"/>
<circle cx="214.60" cy="261.90" r="1.8" fill="#fff" stroke="#a3173e" stroke-width="1.25"/>
<circle cx="211.00" cy="273.50" r="1.8" fill="#fff" stroke="#a3173e" stroke-width="1.25"/>
<circle cx="214.60" cy="273.50" r="1.8" fill="#fff" stroke="#a3173e" stroke-width="1.25"/>
<circle cx="212.80" cy="275.80" r="1.8" fill="#fff" stroke="#a3173e" stroke-width="1.25"/>
<line x1="208.50" y1="266.10" x2="216.90" y2="266.10" stroke="#111" stroke-width="1.1"/>
<line x1="212.70" y1="262.50" x2="212.70" y2="269.50" stroke="#111" stroke-width="1.1"/>
<line x1="210.50" y1="262.50" x2="214.90" y2="262.50" stroke="#111" stroke-width="1.1"/>
<line x1="210.50" y1="269.50" x2="214.90" y2="269.50" stroke="#111" stroke-width="1.1"/>
<circle cx="225.00" cy="259.20" r="1.8" fill="#fff" stroke="#a3173e" stroke-width="1.25"/>
<circle cx="225.00" cy="266.50" r="2.5" fill="#a81a42"/>
<circle cx="227.30" cy="274.60" r="1.8" fill="#fff" stroke="#a3173e" stroke-width="1.25"/>
<circle cx="223.40" cy="276.20" r="1.8" fill="#fff" stroke="#a3173e" stroke-width="1.25"/>
<line x1="220.60" y1="268.90" x2="229.00" y2="268.90" stroke="#111" stroke-width="1.1"/>
<line x1="224.80" y1="265.50" x2="224.80" y2="272.00" stroke="#111" stroke-width="1.1"/>
<line x1="222.60" y1="265.50" x2="227.00" y2="265.50" stroke="#111" stroke-width="1.1"/>
<line x1="222.60" y1="272.00" x2="227.00" y2="272.00" stroke="#111" stroke-width="1.1"/>
<circle cx="234.90" cy="273.50" r="1.8" fill="#fff" stroke="#a3173e" stroke-width="1.25"/>
<circle cx="240.00" cy="276.20" r="1.8" fill="#fff" stroke="#a3173e" stroke-width="1.25"/>
<circle cx="235.00" cy="279.00" r="2.5" fill="#a81a42"/>
<circle cx="237.50" cy="281.50" r="2.5" fill="#a81a42"/>
<circle cx="235.50" cy="283.50" r="2.5" fill="#a81a42"/>
<circle cx="239.00" cy="283.00" r="2.5" fill="#a81a42"/>
<circle cx="249.70" cy="274.60" r="1.8" fill="#fff" stroke="#a3173e" stroke-width="1.25"/>
<circle cx="248.00" cy="279.00" r="2.5" fill="#a81a42"/>
<circle cx="251.50" cy="279.50" r="2.5" fill="#a81a42"/>
<circle cx="258.50" cy="279.20" r="1.8" fill="#fff" stroke="#a3173e" stroke-width="1.25"/>
<circle cx="264.30" cy="279.20" r="1.8" fill="#fff" stroke="#a3173e" stroke-width="1.25"/>
<circle cx="261.00" cy="280.00" r="2.5" fill="#a81a42"/>
<line x1="304.50" y1="194.80" x2="304.50" y2="284.40" stroke="#111" stroke-width="1.2"/>
<line x1="301.00" y1="283.90" x2="390.50" y2="283.90" stroke="#111" stroke-width="1.2"/>
<line x1="301.00" y1="283.90" x2="304.50" y2="283.90" stroke="#111" stroke-width="1.0"/>
<text transform="translate(297.30,286.50)" font-size="7.3" text-anchor="end" font-weight="normal" font-style="normal" fill="#222" stroke="#222" stroke-width="0.2">0.000</text>
<line x1="301.00" y1="262.40" x2="304.50" y2="262.40" stroke="#111" stroke-width="1.0"/>
<text transform="translate(297.30,265.00)" font-size="7.3" text-anchor="end" font-weight="normal" font-style="normal" fill="#222" stroke="#222" stroke-width="0.2">0.005</text>
<line x1="301.00" y1="240.90" x2="304.50" y2="240.90" stroke="#111" stroke-width="1.0"/>
<text transform="translate(297.30,243.50)" font-size="7.3" text-anchor="end" font-weight="normal" font-style="normal" fill="#222" stroke="#222" stroke-width="0.2">0.010</text>
<line x1="301.00" y1="219.40" x2="304.50" y2="219.40" stroke="#111" stroke-width="1.0"/>
<text transform="translate(297.30,222.00)" font-size="7.3" text-anchor="end" font-weight="normal" font-style="normal" fill="#222" stroke="#222" stroke-width="0.2">0.015</text>
<line x1="301.00" y1="197.90" x2="304.50" y2="197.90" stroke="#111" stroke-width="1.0"/>
<text transform="translate(297.30,200.50)" font-size="7.3" text-anchor="end" font-weight="normal" font-style="normal" fill="#222" stroke="#222" stroke-width="0.2">0.020</text>
<line x1="310.40" y1="283.90" x2="310.40" y2="287.40" stroke="#111" stroke-width="1.0"/>
<text transform="translate(310.70,296.70)" font-size="6.9" text-anchor="middle" font-weight="normal" font-style="normal" fill="#222" stroke="#222" stroke-width="0.2">0</text>
<line x1="322.45" y1="283.90" x2="322.45" y2="287.40" stroke="#111" stroke-width="1.0"/>
<text transform="translate(322.75,296.70)" font-size="6.9" text-anchor="middle" font-weight="normal" font-style="normal" fill="#222" stroke="#222" stroke-width="0.2">1.5</text>
<line x1="334.50" y1="283.90" x2="334.50" y2="287.40" stroke="#111" stroke-width="1.0"/>
<text transform="translate(334.80,296.70)" font-size="6.9" text-anchor="middle" font-weight="normal" font-style="normal" fill="#222" stroke="#222" stroke-width="0.2">3</text>
<line x1="346.55" y1="283.90" x2="346.55" y2="287.40" stroke="#111" stroke-width="1.0"/>
<text transform="translate(346.85,296.70)" font-size="6.9" text-anchor="middle" font-weight="normal" font-style="normal" fill="#222" stroke="#222" stroke-width="0.2">4.5</text>
<line x1="358.60" y1="283.90" x2="358.60" y2="287.40" stroke="#111" stroke-width="1.0"/>
<text transform="translate(358.90,296.70)" font-size="6.9" text-anchor="middle" font-weight="normal" font-style="normal" fill="#222" stroke="#222" stroke-width="0.2">6</text>
<line x1="370.65" y1="283.90" x2="370.65" y2="287.40" stroke="#111" stroke-width="1.0"/>
<text transform="translate(370.95,296.70)" font-size="6.9" text-anchor="middle" font-weight="normal" font-style="normal" fill="#222" stroke="#222" stroke-width="0.2">12</text>
<line x1="382.70" y1="283.90" x2="382.70" y2="287.40" stroke="#111" stroke-width="1.0"/>
<text transform="translate(383.00,296.70)" font-size="6.9" text-anchor="middle" font-weight="normal" font-style="normal" fill="#222" stroke="#222" stroke-width="0.2">24</text>
<text transform="translate(347.50,309.70) scale(0.745,1)" font-size="9.5" text-anchor="middle" font-weight="normal" font-style="normal" fill="#111" stroke="#111" stroke-width="0.35">Time [h]</text>
<text transform="translate(346.20,189.00)" font-size="10" text-anchor="middle" font-weight="bold" font-style="italic" fill="#111" >Wnt10b</text>
<line x1="307.70" y1="206.10" x2="323.90" y2="206.10" stroke="#111" stroke-width="1.1"/>
<circle cx="314.00" cy="200.70" r="1.15" fill="#111"/>
<circle cx="317.90" cy="200.70" r="1.15" fill="#111"/>
<line x1="307.70" y1="214.60" x2="334.60" y2="214.60" stroke="#111" stroke-width="1.1"/>
<circle cx="321.80" cy="209.30" r="1.15" fill="#111"/>
<circle cx="308.10" cy="278.50" r="1.8" fill="#fff" stroke="#a3173e" stroke-width="1.25"/>
<circle cx="311.50" cy="278.50" r="1.8" fill="#fff" stroke="#a3173e" stroke-width="1.25"/>
<circle cx="309.50" cy="282.50" r="2.5" fill="#a81a42"/>
<circle cx="312.00" cy="283.50" r="2.5" fill="#a81a42"/>
<circle cx="322.60" cy="221.10" r="1.8" fill="#fff" stroke="#a3173e" stroke-width="1.25"/>
<circle cx="324.90" cy="239.30" r="1.8" fill="#fff" stroke="#a3173e" stroke-width="1.25"/>
<circle cx="320.30" cy="242.30" r="1.8" fill="#fff" stroke="#a3173e" stroke-width="1.25"/>
<circle cx="320.30" cy="253.40" r="1.8" fill="#fff" stroke="#a3173e" stroke-width="1.25"/>
<circle cx="324.90" cy="253.40" r="1.8" fill="#fff" stroke="#a3173e" stroke-width="1.25"/>
<circle cx="325.40" cy="278.50" r="1.8" fill="#fff" stroke="#a3173e" stroke-width="1.25"/>
<circle cx="320.30" cy="280.90" r="1.8" fill="#fff" stroke="#a3173e" stroke-width="1.25"/>
<circle cx="322.60" cy="282.50" r="2.5" fill="#a81a42"/>
<line x1="318.25" y1="259.60" x2="326.65" y2="259.60" stroke="#111" stroke-width="1.1"/>
<line x1="322.45" y1="253.80" x2="322.45" y2="267.00" stroke="#111" stroke-width="1.1"/>
<line x1="320.25" y1="253.80" x2="324.65" y2="253.80" stroke="#111" stroke-width="1.1"/>
<line x1="320.25" y1="267.00" x2="324.65" y2="267.00" stroke="#111" stroke-width="1.1"/>
<circle cx="335.10" cy="239.50" r="1.8" fill="#fff" stroke="#a3173e" stroke-width="1.25"/>
<circle cx="335.10" cy="249.90" r="1.8" fill="#fff" stroke="#a3173e" stroke-width="1.25"/>
<circle cx="332.30" cy="259.60" r="1.8" fill="#fff" stroke="#a3173e" stroke-width="1.25"/>
<circle cx="336.90" cy="275.80" r="1.8" fill="#fff" stroke="#a3173e" stroke-width="1.25"/>
<circle cx="332.30" cy="278.10" r="1.8" fill="#fff" stroke="#a3173e" stroke-width="1.25"/>
<circle cx="335.10" cy="263.10" r="2.5" fill="#a81a42"/>
<line x1="330.30" y1="259.60" x2="338.70" y2="259.60" stroke="#111" stroke-width="1.1"/>
<line x1="334.50" y1="256.50" x2="334.50" y2="264.50" stroke="#111" stroke-width="1.1"/>
<line x1="332.30" y1="256.50" x2="336.70" y2="256.50" stroke="#111" stroke-width="1.1"/>
<line x1="332.30" y1="264.50" x2="336.70" y2="264.50" stroke="#111" stroke-width="1.1"/>
<circle cx="347.30" cy="255.70" r="1.8" fill="#fff" stroke="#a3173e" stroke-width="1.25"/>
<circle cx="348.50" cy="263.80" r="2.5" fill="#a81a42"/>
<circle cx="349.60" cy="268.90" r="1.8" fill="#fff" stroke="#a3173e" stroke-width="1.25"/>
<circle cx="345.00" cy="272.30" r="1.8" fill="#fff" stroke="#a3173e" stroke-width="1.25"/>
<line x1="342.35" y1="264.70" x2="350.75" y2="264.70" stroke="#111" stroke-width="1.1"/>
<line x1="346.55" y1="262.00" x2="346.55" y2="267.50" stroke="#111" stroke-width="1.1"/>
<line x1="344.35" y1="262.00" x2="348.75" y2="262.00" stroke="#111" stroke-width="1.1"/>
<line x1="344.35" y1="267.50" x2="348.75" y2="267.50" stroke="#111" stroke-width="1.1"/>
<circle cx="356.50" cy="273.00" r="1.8" fill="#fff" stroke="#a3173e" stroke-width="1.25"/>
<circle cx="361.00" cy="273.00" r="1.8" fill="#fff" stroke="#a3173e" stroke-width="1.25"/>
<circle cx="357.00" cy="280.50" r="2.5" fill="#a81a42"/>
<circle cx="359.00" cy="282.50" r="2.5" fill="#a81a42"/>
<circle cx="361.00" cy="281.50" r="2.5" fill="#a81a42"/>
<circle cx="358.00" cy="283.50" r="2.5" fill="#a81a42"/>
<circle cx="371.50" cy="277.00" r="1.8" fill="#fff" stroke="#a3173e" stroke-width="1.25"/>
<circle cx="369.50" cy="281.50" r="2.5" fill="#a81a42"/>
<circle cx="372.50" cy="282.50" r="2.5" fill="#a81a42"/>
<circle cx="386.50" cy="278.50" r="1.8" fill="#fff" stroke="#a3173e" stroke-width="1.25"/>
<circle cx="380.80" cy="281.50" r="2.5" fill="#a81a42"/>
<circle cx="383.00" cy="283.00" r="2.5" fill="#a81a42"/>
<line x1="425.80" y1="194.80" x2="425.80" y2="284.40" stroke="#111" stroke-width="1.2"/>
<line x1="422.30" y1="283.90" x2="511.90" y2="283.90" stroke="#111" stroke-width="1.2"/>
<line x1="422.30" y1="283.90" x2="425.80" y2="283.90" stroke="#111" stroke-width="1.0"/>
<text transform="translate(418.60,286.50)" font-size="7.3" text-anchor="end" font-weight="normal" font-style="normal" fill="#222" stroke="#222" stroke-width="0.2">0.000</text>
<line x1="422.30" y1="266.70" x2="425.80" y2="266.70" stroke="#111" stroke-width="1.0"/>
<text transform="translate(418.60,269.30)" font-size="7.3" text-anchor="end" font-weight="normal" font-style="normal" fill="#222" stroke="#222" stroke-width="0.2">0.005</text>
<line x1="422.30" y1="249.50" x2="425.80" y2="249.50" stroke="#111" stroke-width="1.0"/>
<text transform="translate(418.60,252.10)" font-size="7.3" text-anchor="end" font-weight="normal" font-style="normal" fill="#222" stroke="#222" stroke-width="0.2">0.010</text>
<line x1="422.30" y1="232.30" x2="425.80" y2="232.30" stroke="#111" stroke-width="1.0"/>
<text transform="translate(418.60,234.90)" font-size="7.3" text-anchor="end" font-weight="normal" font-style="normal" fill="#222" stroke="#222" stroke-width="0.2">0.015</text>
<line x1="422.30" y1="215.10" x2="425.80" y2="215.10" stroke="#111" stroke-width="1.0"/>
<text transform="translate(418.60,217.70)" font-size="7.3" text-anchor="end" font-weight="normal" font-style="normal" fill="#222" stroke="#222" stroke-width="0.2">0.020</text>
<line x1="422.30" y1="197.90" x2="425.80" y2="197.90" stroke="#111" stroke-width="1.0"/>
<text transform="translate(418.60,200.50)" font-size="7.3" text-anchor="end" font-weight="normal" font-style="normal" fill="#222" stroke="#222" stroke-width="0.2">0.025</text>
<line x1="431.90" y1="283.90" x2="431.90" y2="287.40" stroke="#111" stroke-width="1.0"/>
<text transform="translate(432.20,296.70)" font-size="6.9" text-anchor="middle" font-weight="normal" font-style="normal" fill="#222" stroke="#222" stroke-width="0.2">0</text>
<line x1="444.13" y1="283.90" x2="444.13" y2="287.40" stroke="#111" stroke-width="1.0"/>
<text transform="translate(444.43,296.70)" font-size="6.9" text-anchor="middle" font-weight="normal" font-style="normal" fill="#222" stroke="#222" stroke-width="0.2">1.5</text>
<line x1="456.36" y1="283.90" x2="456.36" y2="287.40" stroke="#111" stroke-width="1.0"/>
<text transform="translate(456.66,296.70)" font-size="6.9" text-anchor="middle" font-weight="normal" font-style="normal" fill="#222" stroke="#222" stroke-width="0.2">3</text>
<line x1="468.59" y1="283.90" x2="468.59" y2="287.40" stroke="#111" stroke-width="1.0"/>
<text transform="translate(468.89,296.70)" font-size="6.9" text-anchor="middle" font-weight="normal" font-style="normal" fill="#222" stroke="#222" stroke-width="0.2">4.5</text>
<line x1="480.82" y1="283.90" x2="480.82" y2="287.40" stroke="#111" stroke-width="1.0"/>
<text transform="translate(481.12,296.70)" font-size="6.9" text-anchor="middle" font-weight="normal" font-style="normal" fill="#222" stroke="#222" stroke-width="0.2">6</text>
<line x1="493.05" y1="283.90" x2="493.05" y2="287.40" stroke="#111" stroke-width="1.0"/>
<text transform="translate(493.35,296.70)" font-size="6.9" text-anchor="middle" font-weight="normal" font-style="normal" fill="#222" stroke="#222" stroke-width="0.2">12</text>
<line x1="505.28" y1="283.90" x2="505.28" y2="287.40" stroke="#111" stroke-width="1.0"/>
<text transform="translate(505.58,296.70)" font-size="6.9" text-anchor="middle" font-weight="normal" font-style="normal" fill="#222" stroke="#222" stroke-width="0.2">24</text>
<text transform="translate(468.85,309.70) scale(0.745,1)" font-size="9.5" text-anchor="middle" font-weight="normal" font-style="normal" fill="#111" stroke="#111" stroke-width="0.35">Time [h]</text>
<text transform="translate(469.30,189.00)" font-size="10" text-anchor="middle" font-weight="bold" font-style="italic" fill="#111" >Wnt11</text>
<line x1="429.70" y1="206.10" x2="445.80" y2="206.10" stroke="#111" stroke-width="1.1"/>
<circle cx="437.50" cy="200.75" r="1.15" fill="#111"/>
<circle cx="431.90" cy="235.40" r="1.8" fill="#fff" stroke="#a3173e" stroke-width="1.25"/>
<circle cx="431.90" cy="260.80" r="2.5" fill="#a81a42"/>
<circle cx="430.00" cy="271.60" r="1.8" fill="#fff" stroke="#a3173e" stroke-width="1.25"/>
<circle cx="433.00" cy="272.30" r="2.5" fill="#a81a42"/>
<circle cx="431.90" cy="274.60" r="1.8" fill="#fff" stroke="#a3173e" stroke-width="1.25"/>
<circle cx="431.90" cy="278.10" r="1.8" fill="#fff" stroke="#a3173e" stroke-width="1.25"/>
<line x1="427.70" y1="267.00" x2="436.10" y2="267.00" stroke="#111" stroke-width="1.1"/>
<line x1="431.90" y1="262.50" x2="431.90" y2="271.50" stroke="#111" stroke-width="1.1"/>
<line x1="429.70" y1="262.50" x2="434.10" y2="262.50" stroke="#111" stroke-width="1.1"/>
<line x1="429.70" y1="271.50" x2="434.10" y2="271.50" stroke="#111" stroke-width="1.1"/>
<circle cx="442.30" cy="213.00" r="1.8" fill="#fff" stroke="#a3173e" stroke-width="1.25"/>
<circle cx="446.90" cy="213.00" r="1.8" fill="#fff" stroke="#a3173e" stroke-width="1.25"/>
<circle cx="444.60" cy="236.10" r="1.8" fill="#fff" stroke="#a3173e" stroke-width="1.25"/>
<circle cx="442.80" cy="252.20" r="1.8" fill="#fff" stroke="#a3173e" stroke-width="1.25"/>
<circle cx="445.80" cy="253.80" r="1.8" fill="#fff" stroke="#a3173e" stroke-width="1.25"/>
<circle cx="443.50" cy="256.90" r="1.8" fill="#fff" stroke="#a3173e" stroke-width="1.25"/>
<circle cx="442.80" cy="266.50" r="1.8" fill="#fff" stroke="#a3173e" stroke-width="1.25"/>
<circle cx="446.90" cy="271.60" r="1.8" fill="#fff" stroke="#a3173e" stroke-width="1.25"/>
<circle cx="442.30" cy="272.30" r="1.8" fill="#fff" stroke="#a3173e" stroke-width="1.25"/>
<line x1="439.93" y1="248.10" x2="448.33" y2="248.10" stroke="#111" stroke-width="1.1"/>
<line x1="444.13" y1="240.70" x2="444.13" y2="252.20" stroke="#111" stroke-width="1.1"/>
<line x1="441.93" y1="240.70" x2="446.33" y2="240.70" stroke="#111" stroke-width="1.1"/>
<line x1="441.93" y1="252.20" x2="446.33" y2="252.20" stroke="#111" stroke-width="1.1"/>
<circle cx="456.20" cy="256.20" r="1.8" fill="#fff" stroke="#a3173e" stroke-width="1.25"/>
<circle cx="458.50" cy="263.10" r="1.8" fill="#fff" stroke="#a3173e" stroke-width="1.25"/>
<circle cx="454.50" cy="265.40" r="1.8" fill="#fff" stroke="#a3173e" stroke-width="1.25"/>
<circle cx="460.80" cy="272.30" r="1.8" fill="#fff" stroke="#a3173e" stroke-width="1.25"/>
<circle cx="457.30" cy="272.30" r="1.8" fill="#fff" stroke="#a3173e" stroke-width="1.25"/>
<circle cx="454.50" cy="277.60" r="1.8" fill="#fff" stroke="#a3173e" stroke-width="1.25"/>
<circle cx="456.20" cy="267.60" r="2.5" fill="#a81a42"/>
<line x1="452.16" y1="268.90" x2="460.56" y2="268.90" stroke="#111" stroke-width="1.1"/>
<line x1="456.36" y1="266.50" x2="456.36" y2="271.20" stroke="#111" stroke-width="1.1"/>
<line x1="454.16" y1="266.50" x2="458.56" y2="266.50" stroke="#111" stroke-width="1.1"/>
<line x1="454.16" y1="271.20" x2="458.56" y2="271.20" stroke="#111" stroke-width="1.1"/>
<circle cx="471.20" cy="266.10" r="1.8" fill="#fff" stroke="#a3173e" stroke-width="1.25"/>
<circle cx="466.50" cy="268.90" r="2.5" fill="#a81a42"/>
<circle cx="469.00" cy="269.20" r="2.5" fill="#a81a42"/>
<circle cx="471.50" cy="269.40" r="2.5" fill="#a81a42"/>
<line x1="464.39" y1="268.90" x2="472.79" y2="268.90" stroke="#111" stroke-width="1.1"/>
<line x1="468.59" y1="267.80" x2="468.59" y2="270.00" stroke="#111" stroke-width="1.1"/>
<line x1="466.39" y1="267.80" x2="470.79" y2="267.80" stroke="#111" stroke-width="1.1"/>
<line x1="466.39" y1="270.00" x2="470.79" y2="270.00" stroke="#111" stroke-width="1.1"/>
<circle cx="479.90" cy="274.60" r="1.8" fill="#fff" stroke="#a3173e" stroke-width="1.25"/>
<circle cx="482.70" cy="274.60" r="1.8" fill="#fff" stroke="#a3173e" stroke-width="1.25"/>
<circle cx="478.10" cy="278.10" r="1.8" fill="#fff" stroke="#a3173e" stroke-width="1.25"/>
<circle cx="483.80" cy="279.90" r="1.8" fill="#fff" stroke="#a3173e" stroke-width="1.25"/>
<circle cx="480.40" cy="281.80" r="1.8" fill="#fff" stroke="#a3173e" stroke-width="1.25"/>
<circle cx="478.00" cy="283.20" r="1.8" fill="#fff" stroke="#a3173e" stroke-width="1.25"/>
<circle cx="493.80" cy="270.70" r="1.8" fill="#fff" stroke="#a3173e" stroke-width="1.25"/>
<circle cx="492.00" cy="278.10" r="1.8" fill="#fff" stroke="#a3173e" stroke-width="1.25"/>
<circle cx="495.40" cy="278.10" r="1.8" fill="#fff" stroke="#a3173e" stroke-width="1.25"/>
<line x1="488.85" y1="276.20" x2="497.25" y2="276.20" stroke="#111" stroke-width="1.1"/>
<line x1="493.05" y1="273.50" x2="493.05" y2="279.00" stroke="#111" stroke-width="1.1"/>
<line x1="490.85" y1="273.50" x2="495.25" y2="273.50" stroke="#111" stroke-width="1.1"/>
<line x1="490.85" y1="279.00" x2="495.25" y2="279.00" stroke="#111" stroke-width="1.1"/>
<circle cx="502.30" cy="279.40" r="1.8" fill="#fff" stroke="#a3173e" stroke-width="1.25"/>
<circle cx="504.60" cy="279.40" r="1.8" fill="#fff" stroke="#a3173e" stroke-width="1.25"/>
<circle cx="506.90" cy="279.40" r="1.8" fill="#fff" stroke="#a3173e" stroke-width="1.25"/>
<circle cx="509.20" cy="279.20" r="1.8" fill="#fff" stroke="#a3173e" stroke-width="1.25"/>
<line x1="426.00" y1="356.00" x2="426.00" y2="445.50" stroke="#111" stroke-width="1.2"/>
<line x1="422.50" y1="445.00" x2="511.50" y2="445.00" stroke="#111" stroke-width="1.2"/>
<line x1="422.50" y1="445.00" x2="426.00" y2="445.00" stroke="#111" stroke-width="1.0"/>
<text transform="translate(418.80,447.60)" font-size="7.3" text-anchor="end" font-weight="normal" font-style="normal" fill="#222" stroke="#222" stroke-width="0.2">0.000</text>
<line x1="422.50" y1="416.25" x2="426.00" y2="416.25" stroke="#111" stroke-width="1.0"/>
<text transform="translate(418.80,418.85)" font-size="7.3" text-anchor="end" font-weight="normal" font-style="normal" fill="#222" stroke="#222" stroke-width="0.2">0.002</text>
<line x1="422.50" y1="387.50" x2="426.00" y2="387.50" stroke="#111" stroke-width="1.0"/>
<text transform="translate(418.80,390.10)" font-size="7.3" text-anchor="end" font-weight="normal" font-style="normal" fill="#222" stroke="#222" stroke-width="0.2">0.004</text>
<line x1="422.50" y1="358.75" x2="426.00" y2="358.75" stroke="#111" stroke-width="1.0"/>
<text transform="translate(418.80,361.35)" font-size="7.3" text-anchor="end" font-weight="normal" font-style="normal" fill="#222" stroke="#222" stroke-width="0.2">0.006</text>
<line x1="432.00" y1="445.00" x2="432.00" y2="448.50" stroke="#111" stroke-width="1.0"/>
<text transform="translate(432.30,458.00)" font-size="6.9" text-anchor="middle" font-weight="normal" font-style="normal" fill="#222" stroke="#222" stroke-width="0.2">0</text>
<line x1="444.25" y1="445.00" x2="444.25" y2="448.50" stroke="#111" stroke-width="1.0"/>
<text transform="translate(444.55,458.00)" font-size="6.9" text-anchor="middle" font-weight="normal" font-style="normal" fill="#222" stroke="#222" stroke-width="0.2">1.5</text>
<line x1="456.50" y1="445.00" x2="456.50" y2="448.50" stroke="#111" stroke-width="1.0"/>
<text transform="translate(456.80,458.00)" font-size="6.9" text-anchor="middle" font-weight="normal" font-style="normal" fill="#222" stroke="#222" stroke-width="0.2">3</text>
<line x1="468.75" y1="445.00" x2="468.75" y2="448.50" stroke="#111" stroke-width="1.0"/>
<text transform="translate(469.05,458.00)" font-size="6.9" text-anchor="middle" font-weight="normal" font-style="normal" fill="#222" stroke="#222" stroke-width="0.2">4.5</text>
<line x1="481.00" y1="445.00" x2="481.00" y2="448.50" stroke="#111" stroke-width="1.0"/>
<text transform="translate(481.30,458.00)" font-size="6.9" text-anchor="middle" font-weight="normal" font-style="normal" fill="#222" stroke="#222" stroke-width="0.2">6</text>
<line x1="493.25" y1="445.00" x2="493.25" y2="448.50" stroke="#111" stroke-width="1.0"/>
<text transform="translate(493.55,458.00)" font-size="6.9" text-anchor="middle" font-weight="normal" font-style="normal" fill="#222" stroke="#222" stroke-width="0.2">12</text>
<line x1="505.50" y1="445.00" x2="505.50" y2="448.50" stroke="#111" stroke-width="1.0"/>
<text transform="translate(505.80,458.00)" font-size="6.9" text-anchor="middle" font-weight="normal" font-style="normal" fill="#222" stroke="#222" stroke-width="0.2">24</text>
<text transform="translate(468.75,471.30) scale(0.745,1)" font-size="9.5" text-anchor="middle" font-weight="normal" font-style="normal" fill="#111" stroke="#111" stroke-width="0.35">Time [h]</text>
<text transform="translate(469.50,350.50)" font-size="10" text-anchor="middle" font-weight="bold" font-style="italic" fill="#111" >Wnt6</text>
<text transform="translate(393.50,399.90) rotate(-90) scale(0.83,1)" font-size="8.0" text-anchor="middle" font-weight="normal" font-style="normal" fill="#111" stroke="#111" stroke-width="0.35">Relative gene expression</text>
<line x1="431.30" y1="371.60" x2="483.80" y2="371.60" stroke="#111" stroke-width="1.1"/>
<circle cx="457.40" cy="366.10" r="1.15" fill="#111"/>
<circle cx="432.00" cy="377.00" r="1.8" fill="#fff" stroke="#a3173e" stroke-width="1.25"/>
<circle cx="432.00" cy="406.30" r="2.5" fill="#a81a42"/>
<circle cx="430.00" cy="409.50" r="1.8" fill="#fff" stroke="#a3173e" stroke-width="1.25"/>
<circle cx="433.00" cy="412.50" r="2.5" fill="#a81a42"/>
<circle cx="430.00" cy="413.50" r="2.5" fill="#a81a42"/>
<circle cx="434.30" cy="413.50" r="1.8" fill="#fff" stroke="#a3173e" stroke-width="1.25"/>
<circle cx="431.30" cy="426.30" r="1.8" fill="#fff" stroke="#a3173e" stroke-width="1.25"/>
<circle cx="432.00" cy="445.00" r="2.5" fill="#a81a42"/>
<line x1="427.80" y1="415.00" x2="436.20" y2="415.00" stroke="#111" stroke-width="1.1"/>
<line x1="432.00" y1="410.00" x2="432.00" y2="421.30" stroke="#111" stroke-width="1.1"/>
<line x1="429.80" y1="410.00" x2="434.20" y2="410.00" stroke="#111" stroke-width="1.1"/>
<line x1="429.80" y1="421.30" x2="434.20" y2="421.30" stroke="#111" stroke-width="1.1"/>
<circle cx="444.50" cy="383.80" r="1.8" fill="#fff" stroke="#a3173e" stroke-width="1.25"/>
<circle cx="444.50" cy="398.30" r="1.8" fill="#fff" stroke="#a3173e" stroke-width="1.25"/>
<circle cx="442.00" cy="416.30" r="1.8" fill="#fff" stroke="#a3173e" stroke-width="1.25"/>
<circle cx="445.50" cy="419.50" r="1.8" fill="#fff" stroke="#a3173e" stroke-width="1.25"/>
<circle cx="442.50" cy="428.80" r="1.8" fill="#fff" stroke="#a3173e" stroke-width="1.25"/>
<circle cx="447.00" cy="428.80" r="1.8" fill="#fff" stroke="#a3173e" stroke-width="1.25"/>
<circle cx="443.80" cy="433.80" r="1.8" fill="#fff" stroke="#a3173e" stroke-width="1.25"/>
<circle cx="446.30" cy="433.80" r="1.8" fill="#fff" stroke="#a3173e" stroke-width="1.25"/>
<circle cx="444.50" cy="412.50" r="2.5" fill="#a81a42"/>
<line x1="440.05" y1="417.00" x2="448.45" y2="417.00" stroke="#111" stroke-width="1.1"/>
<line x1="444.25" y1="412.50" x2="444.25" y2="422.50" stroke="#111" stroke-width="1.1"/>
<line x1="442.05" y1="412.50" x2="446.45" y2="412.50" stroke="#111" stroke-width="1.1"/>
<line x1="442.05" y1="422.50" x2="446.45" y2="422.50" stroke="#111" stroke-width="1.1"/>
<circle cx="455.00" cy="426.30" r="1.8" fill="#fff" stroke="#a3173e" stroke-width="1.25"/>
<circle cx="458.80" cy="427.50" r="1.8" fill="#fff" stroke="#a3173e" stroke-width="1.25"/>
<circle cx="457.50" cy="430.50" r="1.8" fill="#fff" stroke="#a3173e" stroke-width="1.25"/>
<circle cx="456.30" cy="435.50" r="1.8" fill="#fff" stroke="#a3173e" stroke-width="1.25"/>
<circle cx="458.80" cy="435.50" r="1.8" fill="#fff" stroke="#a3173e" stroke-width="1.25"/>
<line x1="452.30" y1="431.30" x2="460.70" y2="431.30" stroke="#111" stroke-width="1.1"/>
<line x1="456.50" y1="429.00" x2="456.50" y2="433.50" stroke="#111" stroke-width="1.1"/>
<line x1="454.30" y1="429.00" x2="458.70" y2="429.00" stroke="#111" stroke-width="1.1"/>
<line x1="454.30" y1="433.50" x2="458.70" y2="433.50" stroke="#111" stroke-width="1.1"/>
<circle cx="467.50" cy="428.80" r="1.8" fill="#fff" stroke="#a3173e" stroke-width="1.25"/>
<circle cx="472.50" cy="430.00" r="1.8" fill="#fff" stroke="#a3173e" stroke-width="1.25"/>
<circle cx="467.50" cy="436.30" r="1.8" fill="#fff" stroke="#a3173e" stroke-width="1.25"/>
<line x1="464.55" y1="432.00" x2="472.95" y2="432.00" stroke="#111" stroke-width="1.1"/>
<line x1="468.75" y1="430.50" x2="468.75" y2="433.50" stroke="#111" stroke-width="1.1"/>
<line x1="466.55" y1="430.50" x2="470.95" y2="430.50" stroke="#111" stroke-width="1.1"/>
<line x1="466.55" y1="433.50" x2="470.95" y2="433.50" stroke="#111" stroke-width="1.1"/>
<circle cx="481.30" cy="416.30" r="1.8" fill="#fff" stroke="#a3173e" stroke-width="1.25"/>
<circle cx="480.00" cy="434.50" r="2.5" fill="#a81a42"/>
<circle cx="482.50" cy="437.00" r="2.5" fill="#a81a42"/>
<circle cx="480.50" cy="439.50" r="2.5" fill="#a81a42"/>
<circle cx="482.00" cy="442.00" r="2.5" fill="#a81a42"/>
<circle cx="481.30" cy="445.00" r="2.5" fill="#a81a42"/>
<line x1="476.80" y1="434.50" x2="485.20" y2="434.50" stroke="#111" stroke-width="1.1"/>
<line x1="481.00" y1="432.50" x2="481.00" y2="436.50" stroke="#111" stroke-width="1.1"/>
<line x1="478.80" y1="432.50" x2="483.20" y2="432.50" stroke="#111" stroke-width="1.1"/>
<line x1="478.80" y1="436.50" x2="483.20" y2="436.50" stroke="#111" stroke-width="1.1"/>
<circle cx="491.30" cy="418.00" r="1.8" fill="#fff" stroke="#a3173e" stroke-width="1.25"/>
<circle cx="495.00" cy="421.30" r="1.8" fill="#fff" stroke="#a3173e" stroke-width="1.25"/>
<circle cx="495.00" cy="427.00" r="1.8" fill="#fff" stroke="#a3173e" stroke-width="1.25"/>
<circle cx="491.30" cy="432.00" r="1.8" fill="#fff" stroke="#a3173e" stroke-width="1.25"/>
<line x1="489.05" y1="424.50" x2="497.45" y2="424.50" stroke="#111" stroke-width="1.1"/>
<line x1="493.25" y1="421.50" x2="493.25" y2="427.50" stroke="#111" stroke-width="1.1"/>
<line x1="491.05" y1="421.50" x2="495.45" y2="421.50" stroke="#111" stroke-width="1.1"/>
<line x1="491.05" y1="427.50" x2="495.45" y2="427.50" stroke="#111" stroke-width="1.1"/>
<circle cx="505.80" cy="384.50" r="1.8" fill="#fff" stroke="#a3173e" stroke-width="1.25"/>
<circle cx="505.80" cy="393.80" r="2.5" fill="#a81a42"/>
<circle cx="503.30" cy="413.80" r="1.8" fill="#fff" stroke="#a3173e" stroke-width="1.25"/>
<circle cx="507.50" cy="413.80" r="1.8" fill="#fff" stroke="#a3173e" stroke-width="1.25"/>
<line x1="501.30" y1="401.30" x2="509.70" y2="401.30" stroke="#111" stroke-width="1.1"/>
<line x1="505.50" y1="395.00" x2="505.50" y2="408.80" stroke="#111" stroke-width="1.1"/>
<line x1="503.30" y1="395.00" x2="507.70" y2="395.00" stroke="#111" stroke-width="1.1"/>
<line x1="503.30" y1="408.80" x2="507.70" y2="408.80" stroke="#111" stroke-width="1.1"/>
<rect x="37" y="385" width="23" height="22" fill="#5871ad" shape-rendering="crispEdges"/>
<rect x="60" y="385" width="22" height="22" fill="#d0d7e8" shape-rendering="crispEdges"/>
<rect x="82" y="385" width="23" height="22" fill="#acb8d6" shape-rendering="crispEdges"/>
<rect x="105" y="385" width="22" height="22" fill="#f6e9ea" shape-rendering="crispEdges"/>
<rect x="127" y="385" width="23" height="22" fill="#faf1f2" shape-rendering="crispEdges"/>
<rect x="150" y="385" width="22" height="22" fill="#b4bfda" shape-rendering="crispEdges"/>
<rect x="172" y="385" width="23" height="22" fill="#dee3ef" shape-rendering="crispEdges"/>
<rect x="195" y="385" width="23" height="22" fill="#e3e7f1" shape-rendering="crispEdges"/>
<rect x="218" y="385" width="22" height="22" fill="#8d9ec7" shape-rendering="crispEdges"/>
<rect x="240" y="385" width="23" height="22" fill="#f8f9fc" shape-rendering="crispEdges"/>
<rect x="263" y="385" width="22" height="22" fill="#fcfcfd" shape-rendering="crispEdges"/>
<rect x="285" y="385" width="23" height="22" fill="#acb8d6" shape-rendering="crispEdges"/>
<rect x="308" y="385" width="23" height="22" fill="#f2dedf" shape-rendering="crispEdges"/>
<rect x="60" y="407" width="22" height="23" fill="#5871ad" shape-rendering="crispEdges"/>
<rect x="82" y="407" width="23" height="23" fill="#677eb4" shape-rendering="crispEdges"/>
<rect x="105" y="407" width="22" height="23" fill="#8fa0c8" shape-rendering="crispEdges"/>
<rect x="127" y="407" width="23" height="23" fill="#a3b1d2" shape-rendering="crispEdges"/>
<rect x="150" y="407" width="22" height="23" fill="#b4bfda" shape-rendering="crispEdges"/>
<rect x="172" y="407" width="23" height="23" fill="#627ab2" shape-rendering="crispEdges"/>
<rect x="195" y="407" width="23" height="23" fill="#8396c2" shape-rendering="crispEdges"/>
<rect x="218" y="407" width="22" height="23" fill="#dee3ef" shape-rendering="crispEdges"/>
<rect x="240" y="407" width="23" height="23" fill="#6c82b7" shape-rendering="crispEdges"/>
<rect x="263" y="407" width="22" height="23" fill="#6f85b8" shape-rendering="crispEdges"/>
<rect x="285" y="407" width="23" height="23" fill="#acb8d6" shape-rendering="crispEdges"/>
<rect x="308" y="407" width="23" height="23" fill="#acb8d6" shape-rendering="crispEdges"/>
<rect x="82" y="430" width="23" height="22" fill="#5871ad" shape-rendering="crispEdges"/>
<rect x="105" y="430" width="22" height="22" fill="#cdd4e6" shape-rendering="crispEdges"/>
<rect x="127" y="430" width="23" height="22" fill="#cdd4e6" shape-rendering="crispEdges"/>
<rect x="150" y="430" width="22" height="22" fill="#889ac5" shape-rendering="crispEdges"/>
<rect x="172" y="430" width="23" height="22" fill="#7186b9" shape-rendering="crispEdges"/>
<rect x="195" y="430" width="23" height="22" fill="#b4bfda" shape-rendering="crispEdges"/>
<rect x="218" y="430" width="22" height="22" fill="#b4bfda" shape-rendering="crispEdges"/>
<rect x="240" y="430" width="23" height="22" fill="#8fa0c8" shape-rendering="crispEdges"/>
<rect x="263" y="430" width="22" height="22" fill="#8597c3" shape-rendering="crispEdges"/>
<rect x="285" y="430" width="23" height="22" fill="#bcc6de" shape-rendering="crispEdges"/>
<rect x="308" y="430" width="23" height="22" fill="#c5cde2" shape-rendering="crispEdges"/>
<rect x="105" y="452" width="22" height="23" fill="#5871ad" shape-rendering="crispEdges"/>
<rect x="127" y="452" width="23" height="23" fill="#5a72ae" shape-rendering="crispEdges"/>
<rect x="150" y="452" width="22" height="23" fill="#f4e4e4" shape-rendering="crispEdges"/>
<rect x="172" y="452" width="23" height="23" fill="#8d9ec7" shape-rendering="crispEdges"/>
<rect x="195" y="452" width="23" height="23" fill="#627ab2" shape-rendering="crispEdges"/>
<rect x="218" y="452" width="22" height="23" fill="#ffffff" shape-rendering="crispEdges"/>
<rect x="240" y="452" width="23" height="23" fill="#6e83b8" shape-rendering="crispEdges"/>
<rect x="263" y="452" width="22" height="23" fill="#8597c3" shape-rendering="crispEdges"/>
<rect x="285" y="452" width="23" height="23" fill="#acb8d6" shape-rendering="crispEdges"/>
<rect x="308" y="452" width="23" height="23" fill="#acb8d6" shape-rendering="crispEdges"/>
<rect x="127" y="475" width="23" height="22" fill="#5871ad" shape-rendering="crispEdges"/>
<rect x="150" y="475" width="22" height="22" fill="#eed6d7" shape-rendering="crispEdges"/>
<rect x="172" y="475" width="23" height="22" fill="#a3b1d2" shape-rendering="crispEdges"/>
<rect x="195" y="475" width="23" height="22" fill="#627ab2" shape-rendering="crispEdges"/>
<rect x="218" y="475" width="22" height="22" fill="#ffffff" shape-rendering="crispEdges"/>
<rect x="240" y="475" width="23" height="22" fill="#7186b9" shape-rendering="crispEdges"/>
<rect x="263" y="475" width="22" height="22" fill="#8597c3" shape-rendering="crispEdges"/>
<rect x="285" y="475" width="23" height="22" fill="#acb8d6" shape-rendering="crispEdges"/>
<rect x="308" y="475" width="23" height="22" fill="#acb8d6" shape-rendering="crispEdges"/>
<rect x="150" y="497" width="22" height="23" fill="#5871ad" shape-rendering="crispEdges"/>
<rect x="172" y="497" width="23" height="23" fill="#acb8d6" shape-rendering="crispEdges"/>
<rect x="195" y="497" width="23" height="23" fill="#eef1f7" shape-rendering="crispEdges"/>
<rect x="218" y="497" width="22" height="23" fill="#8fa0c8" shape-rendering="crispEdges"/>
<rect x="240" y="497" width="23" height="23" fill="#dae0ed" shape-rendering="crispEdges"/>
<rect x="263" y="497" width="22" height="23" fill="#d5dcea" shape-rendering="crispEdges"/>
<rect x="285" y="497" width="23" height="23" fill="#d0d7e8" shape-rendering="crispEdges"/>
<rect x="308" y="497" width="23" height="23" fill="#c5cde2" shape-rendering="crispEdges"/>
<rect x="172" y="520" width="23" height="22" fill="#5871ad" shape-rendering="crispEdges"/>
<rect x="195" y="520" width="23" height="22" fill="#889ac5" shape-rendering="crispEdges"/>
<rect x="218" y="520" width="22" height="22" fill="#d0d7e8" shape-rendering="crispEdges"/>
<rect x="240" y="520" width="23" height="22" fill="#627ab2" shape-rendering="crispEdges"/>
<rect x="263" y="520" width="22" height="22" fill="#697fb5" shape-rendering="crispEdges"/>
<rect x="285" y="520" width="23" height="22" fill="#acb8d6" shape-rendering="crispEdges"/>
<rect x="308" y="520" width="23" height="22" fill="#8799c4" shape-rendering="crispEdges"/>
<rect x="195" y="542" width="23" height="23" fill="#5871ad" shape-rendering="crispEdges"/>
<rect x="218" y="542" width="22" height="23" fill="#dee3ef" shape-rendering="crispEdges"/>
<rect x="240" y="542" width="23" height="23" fill="#7186b9" shape-rendering="crispEdges"/>
<rect x="263" y="542" width="22" height="23" fill="#7d90bf" shape-rendering="crispEdges"/>
<rect x="285" y="542" width="23" height="23" fill="#8799c4" shape-rendering="crispEdges"/>
<rect x="308" y="542" width="23" height="23" fill="#acb8d6" shape-rendering="crispEdges"/>
<rect x="218" y="565" width="22" height="22" fill="#5871ad" shape-rendering="crispEdges"/>
<rect x="240" y="565" width="23" height="22" fill="#e6eaf3" shape-rendering="crispEdges"/>
<rect x="263" y="565" width="22" height="22" fill="#f7f8fb" shape-rendering="crispEdges"/>
<rect x="285" y="565" width="23" height="22" fill="#8093c1" shape-rendering="crispEdges"/>
<rect x="308" y="565" width="23" height="22" fill="#b9c3dd" shape-rendering="crispEdges"/>
<rect x="240" y="587" width="23" height="23" fill="#5871ad" shape-rendering="crispEdges"/>
<rect x="263" y="587" width="22" height="23" fill="#657cb4" shape-rendering="crispEdges"/>
<rect x="285" y="587" width="23" height="23" fill="#b4bfda" shape-rendering="crispEdges"/>
<rect x="308" y="587" width="23" height="23" fill="#8c9dc6" shape-rendering="crispEdges"/>
<rect x="263" y="610" width="22" height="22" fill="#5871ad" shape-rendering="crispEdges"/>
<rect x="285" y="610" width="23" height="22" fill="#c5cde2" shape-rendering="crispEdges"/>
<rect x="308" y="610" width="23" height="22" fill="#acb8d6" shape-rendering="crispEdges"/>
<rect x="285" y="632" width="23" height="23" fill="#5871ad" shape-rendering="crispEdges"/>
<rect x="308" y="632" width="23" height="23" fill="#a1afd1" shape-rendering="crispEdges"/>
<rect x="308" y="655" width="23" height="22" fill="#5871ad" shape-rendering="crispEdges"/>
<text transform="translate(48.29,398.16)" font-size="7.2" text-anchor="middle" font-weight="bold" font-style="normal" fill="#0c1535" stroke="#0c1535" stroke-width="0.35">1</text>
<text transform="translate(228.93,398.76)" font-size="9.4" text-anchor="middle" font-weight="bold" font-style="normal" fill="#111" stroke="#111" stroke-width="0.3">0.68</text>
<text transform="translate(70.87,420.68)" font-size="7.2" text-anchor="middle" font-weight="bold" font-style="normal" fill="#0c1535" stroke="#0c1535" stroke-width="0.35">1</text>
<text transform="translate(93.45,421.28)" font-size="9.4" text-anchor="middle" font-weight="bold" font-style="normal" fill="#111" stroke="#111" stroke-width="0.3">0.91</text>
<text transform="translate(116.03,421.28)" font-size="9.4" text-anchor="middle" font-weight="bold" font-style="normal" fill="#111" stroke="#111" stroke-width="0.3">0.67</text>
<text transform="translate(183.77,421.28)" font-size="9.4" text-anchor="middle" font-weight="bold" font-style="normal" fill="#111" stroke="#111" stroke-width="0.3">0.94</text>
<text transform="translate(206.35,421.28)" font-size="9.4" text-anchor="middle" font-weight="bold" font-style="normal" fill="#111" stroke="#111" stroke-width="0.3">0.74</text>
<text transform="translate(251.51,421.28)" font-size="9.4" text-anchor="middle" font-weight="bold" font-style="normal" fill="#111" stroke="#111" stroke-width="0.3">0.88</text>
<text transform="translate(274.09,421.28)" font-size="9.4" text-anchor="middle" font-weight="bold" font-style="normal" fill="#111" stroke="#111" stroke-width="0.3">0.86</text>
<text transform="translate(93.45,443.20)" font-size="7.2" text-anchor="middle" font-weight="bold" font-style="normal" fill="#0c1535" stroke="#0c1535" stroke-width="0.35">1</text>
<text transform="translate(161.19,443.80)" font-size="9.4" text-anchor="middle" font-weight="bold" font-style="normal" fill="#111" stroke="#111" stroke-width="0.3">0.71</text>
<text transform="translate(183.77,443.80)" font-size="9.4" text-anchor="middle" font-weight="bold" font-style="normal" fill="#111" stroke="#111" stroke-width="0.3">0.85</text>
<text transform="translate(251.51,443.80)" font-size="9.4" text-anchor="middle" font-weight="bold" font-style="normal" fill="#111" stroke="#111" stroke-width="0.3">0.67</text>
<text transform="translate(274.09,443.80)" font-size="9.4" text-anchor="middle" font-weight="bold" font-style="normal" fill="#111" stroke="#111" stroke-width="0.3">0.73</text>
<text transform="translate(116.03,465.72)" font-size="7.2" text-anchor="middle" font-weight="bold" font-style="normal" fill="#0c1535" stroke="#0c1535" stroke-width="0.35">1</text>
<text transform="translate(138.61,466.32)" font-size="9.4" text-anchor="middle" font-weight="bold" font-style="normal" fill="#111" stroke="#111" stroke-width="0.3">0.99</text>
<text transform="translate(183.77,466.32)" font-size="9.4" text-anchor="middle" font-weight="bold" font-style="normal" fill="#111" stroke="#111" stroke-width="0.3">0.68</text>
<text transform="translate(206.35,466.32)" font-size="9.4" text-anchor="middle" font-weight="bold" font-style="normal" fill="#111" stroke="#111" stroke-width="0.3">0.94</text>
<text transform="translate(251.51,466.32)" font-size="9.4" text-anchor="middle" font-weight="bold" font-style="normal" fill="#111" stroke="#111" stroke-width="0.3">0.87</text>
<text transform="translate(274.09,466.32)" font-size="9.4" text-anchor="middle" font-weight="bold" font-style="normal" fill="#111" stroke="#111" stroke-width="0.3">0.73</text>
<text transform="translate(138.61,488.24)" font-size="7.2" text-anchor="middle" font-weight="bold" font-style="normal" fill="#0c1535" stroke="#0c1535" stroke-width="0.35">1</text>
<text transform="translate(206.35,488.84)" font-size="9.4" text-anchor="middle" font-weight="bold" font-style="normal" fill="#111" stroke="#111" stroke-width="0.3">0.94</text>
<text transform="translate(251.51,488.84)" font-size="9.4" text-anchor="middle" font-weight="bold" font-style="normal" fill="#111" stroke="#111" stroke-width="0.3">0.85</text>
<text transform="translate(274.09,488.84)" font-size="9.4" text-anchor="middle" font-weight="bold" font-style="normal" fill="#111" stroke="#111" stroke-width="0.3">0.73</text>
<text transform="translate(161.19,510.76)" font-size="7.2" text-anchor="middle" font-weight="bold" font-style="normal" fill="#0c1535" stroke="#0c1535" stroke-width="0.35">1</text>
<text transform="translate(228.93,511.36)" font-size="9.4" text-anchor="middle" font-weight="bold" font-style="normal" fill="#111" stroke="#111" stroke-width="0.3">0.67</text>
<text transform="translate(183.77,533.28)" font-size="7.2" text-anchor="middle" font-weight="bold" font-style="normal" fill="#0c1535" stroke="#0c1535" stroke-width="0.35">1</text>
<text transform="translate(206.35,533.88)" font-size="9.4" text-anchor="middle" font-weight="bold" font-style="normal" fill="#111" stroke="#111" stroke-width="0.3">0.71</text>
<text transform="translate(251.51,533.88)" font-size="9.4" text-anchor="middle" font-weight="bold" font-style="normal" fill="#111" stroke="#111" stroke-width="0.3">0.94</text>
<text transform="translate(274.09,533.88)" font-size="9.4" text-anchor="middle" font-weight="bold" font-style="normal" fill="#111" stroke="#111" stroke-width="0.3">0.9</text>
<text transform="translate(319.25,533.88)" font-size="9.4" text-anchor="middle" font-weight="bold" font-style="normal" fill="#111" stroke="#111" stroke-width="0.3">0.72</text>
<text transform="translate(206.35,555.80)" font-size="7.2" text-anchor="middle" font-weight="bold" font-style="normal" fill="#0c1535" stroke="#0c1535" stroke-width="0.35">1</text>
<text transform="translate(251.51,556.40)" font-size="9.4" text-anchor="middle" font-weight="bold" font-style="normal" fill="#111" stroke="#111" stroke-width="0.3">0.85</text>
<text transform="translate(274.09,556.40)" font-size="9.4" text-anchor="middle" font-weight="bold" font-style="normal" fill="#111" stroke="#111" stroke-width="0.3">0.78</text>
<text transform="translate(296.67,556.40)" font-size="9.4" text-anchor="middle" font-weight="bold" font-style="normal" fill="#111" stroke="#111" stroke-width="0.3">0.72</text>
<text transform="translate(228.93,578.32)" font-size="7.2" text-anchor="middle" font-weight="bold" font-style="normal" fill="#0c1535" stroke="#0c1535" stroke-width="0.35">1</text>
<text transform="translate(296.67,578.92)" font-size="9.4" text-anchor="middle" font-weight="bold" font-style="normal" fill="#111" stroke="#111" stroke-width="0.3">0.76</text>
<text transform="translate(251.51,600.84)" font-size="7.2" text-anchor="middle" font-weight="bold" font-style="normal" fill="#0c1535" stroke="#0c1535" stroke-width="0.35">1</text>
<text transform="translate(274.09,601.44)" font-size="9.4" text-anchor="middle" font-weight="bold" font-style="normal" fill="#111" stroke="#111" stroke-width="0.3">0.92</text>
<text transform="translate(319.25,601.44)" font-size="9.4" text-anchor="middle" font-weight="bold" font-style="normal" fill="#111" stroke="#111" stroke-width="0.3">0.69</text>
<text transform="translate(274.09,623.36)" font-size="7.2" text-anchor="middle" font-weight="bold" font-style="normal" fill="#0c1535" stroke="#0c1535" stroke-width="0.35">1</text>
<text transform="translate(296.67,645.88)" font-size="7.2" text-anchor="middle" font-weight="bold" font-style="normal" fill="#0c1535" stroke="#0c1535" stroke-width="0.35">1</text>
<text transform="translate(319.25,668.40)" font-size="7.2" text-anchor="middle" font-weight="bold" font-style="normal" fill="#0c1535" stroke="#0c1535" stroke-width="0.35">1</text>
<text transform="translate(33.70,398.46)" font-size="8.8" text-anchor="end" font-weight="normal" font-style="italic" fill="#1a1a1a" stroke="#222" stroke-width="0.2">Il6</text>
<text transform="translate(56.28,420.98)" font-size="8.8" text-anchor="end" font-weight="normal" font-style="italic" fill="#1a1a1a" stroke="#222" stroke-width="0.2">Il10</text>
<text transform="translate(78.86,443.50)" font-size="8.8" text-anchor="end" font-weight="normal" font-style="italic" fill="#1a1a1a" stroke="#222" stroke-width="0.2">Tnf</text>
<text transform="translate(101.44,466.02)" font-size="8.8" text-anchor="end" font-weight="normal" font-style="italic" fill="#1a1a1a" stroke="#222" stroke-width="0.2">Il12b</text>
<text transform="translate(124.02,488.54)" font-size="8.8" text-anchor="end" font-weight="normal" font-style="italic" fill="#1a1a1a" stroke="#222" stroke-width="0.2">Wnt3</text>
<text transform="translate(146.60,511.06)" font-size="8.8" text-anchor="end" font-weight="normal" font-style="italic" fill="#1a1a1a" stroke="#222" stroke-width="0.2">Wnt4</text>
<text transform="translate(169.18,533.58)" font-size="8.8" text-anchor="end" font-weight="normal" font-style="italic" fill="#1a1a1a" stroke="#222" stroke-width="0.2">Wnt5a</text>
<text transform="translate(191.76,556.10)" font-size="8.8" text-anchor="end" font-weight="normal" font-style="italic" fill="#1a1a1a" stroke="#222" stroke-width="0.2">Wnt5b</text>
<text transform="translate(214.34,578.62)" font-size="8.8" text-anchor="end" font-weight="normal" font-style="italic" fill="#1a1a1a" stroke="#222" stroke-width="0.2">Wnt6</text>
<text transform="translate(236.92,601.14)" font-size="8.8" text-anchor="end" font-weight="normal" font-style="italic" fill="#1a1a1a" stroke="#222" stroke-width="0.2">Wnt10a</text>
<text transform="translate(259.50,623.66)" font-size="8.8" text-anchor="end" font-weight="normal" font-style="italic" fill="#1a1a1a" stroke="#222" stroke-width="0.2">Wnt10b</text>
<text transform="translate(282.08,646.18)" font-size="8.8" text-anchor="end" font-weight="normal" font-style="italic" fill="#1a1a1a" stroke="#222" stroke-width="0.2">Wnt11</text>
<text transform="translate(304.66,668.70)" font-size="8.8" text-anchor="end" font-weight="normal" font-style="italic" fill="#1a1a1a" stroke="#222" stroke-width="0.2">Wnt16</text>
<text transform="translate(52.29,379.80) rotate(-90)" font-size="9.2" text-anchor="start" font-weight="normal" font-style="italic" fill="#222" >Il6</text>
<text transform="translate(74.87,379.80) rotate(-90)" font-size="9.2" text-anchor="start" font-weight="normal" font-style="italic" fill="#222" >Il10</text>
<text transform="translate(97.45,379.80) rotate(-90)" font-size="9.2" text-anchor="start" font-weight="normal" font-style="italic" fill="#222" >Tnf</text>
<text transform="translate(120.03,379.80) rotate(-90)" font-size="9.2" text-anchor="start" font-weight="normal" font-style="italic" fill="#222" >Il12b</text>
<text transform="translate(142.61,379.80) rotate(-90)" font-size="9.2" text-anchor="start" font-weight="normal" font-style="italic" fill="#222" >Wnt3</text>
<text transform="translate(165.19,379.80) rotate(-90)" font-size="9.2" text-anchor="start" font-weight="normal" font-style="italic" fill="#222" >Wnt4</text>
<text transform="translate(187.77,379.80) rotate(-90)" font-size="9.2" text-anchor="start" font-weight="normal" font-style="italic" fill="#222" >Wnt5a</text>
<text transform="translate(210.35,379.80) rotate(-90)" font-size="9.2" text-anchor="start" font-weight="normal" font-style="italic" fill="#222" >Wnt5b</text>
<text transform="translate(232.93,379.80) rotate(-90)" font-size="9.2" text-anchor="start" font-weight="normal" font-style="italic" fill="#222" >Wnt6</text>
<text transform="translate(255.51,379.80) rotate(-90)" font-size="9.2" text-anchor="start" font-weight="normal" font-style="italic" fill="#222" >Wnt10a</text>
<text transform="translate(278.09,379.80) rotate(-90)" font-size="9.2" text-anchor="start" font-weight="normal" font-style="italic" fill="#222" >Wnt10b</text>
<text transform="translate(300.67,379.80) rotate(-90)" font-size="9.2" text-anchor="start" font-weight="normal" font-style="italic" fill="#222" >Wnt11</text>
<text transform="translate(323.25,379.80) rotate(-90)" font-size="9.2" text-anchor="start" font-weight="normal" font-style="italic" fill="#222" >Wnt16</text>
<defs><linearGradient id="cb" x1="0" y1="0" x2="0" y2="1"><stop offset="0" stop-color="#5871ad"/><stop offset="0.5" stop-color="#ffffff"/><stop offset="0.75" stop-color="#c8767a"/><stop offset="1" stop-color="#6e1622"/></linearGradient></defs>
<rect x="336.6" y="384.6" width="9.9" height="293.6" fill="url(#cb)" stroke="#000" stroke-width="1.1"/>
<line x1="346.60" y1="384.70" x2="349.80" y2="384.70" stroke="#000" stroke-width="1.0"/>
<text transform="translate(353.20,387.70)" font-size="8.6" text-anchor="start" font-weight="normal" font-style="normal" fill="#2a2a2a" >1</text>
<line x1="346.60" y1="414.05" x2="349.80" y2="414.05" stroke="#000" stroke-width="1.0"/>
<text transform="translate(353.20,417.05)" font-size="8.6" text-anchor="start" font-weight="normal" font-style="normal" fill="#2a2a2a" >0.8</text>
<line x1="346.60" y1="443.40" x2="349.80" y2="443.40" stroke="#000" stroke-width="1.0"/>
<text transform="translate(353.20,446.40)" font-size="8.6" text-anchor="start" font-weight="normal" font-style="normal" fill="#2a2a2a" >0.6</text>
<line x1="346.60" y1="472.75" x2="349.80" y2="472.75" stroke="#000" stroke-width="1.0"/>
<text transform="translate(353.20,475.75)" font-size="8.6" text-anchor="start" font-weight="normal" font-style="normal" fill="#2a2a2a" >0.4</text>
<line x1="346.60" y1="502.10" x2="349.80" y2="502.10" stroke="#000" stroke-width="1.0"/>
<text transform="translate(353.20,505.10)" font-size="8.6" text-anchor="start" font-weight="normal" font-style="normal" fill="#2a2a2a" >0.2</text>
<line x1="346.60" y1="531.45" x2="349.80" y2="531.45" stroke="#000" stroke-width="1.0"/>
<text transform="translate(353.20,534.45)" font-size="8.6" text-anchor="start" font-weight="normal" font-style="normal" fill="#2a2a2a" >0</text>
<line x1="346.60" y1="560.80" x2="349.80" y2="560.80" stroke="#000" stroke-width="1.0"/>
<text transform="translate(353.20,563.80)" font-size="8.6" text-anchor="start" font-weight="normal" font-style="normal" fill="#2a2a2a" >−0.2</text>
<line x1="346.60" y1="590.15" x2="349.80" y2="590.15" stroke="#000" stroke-width="1.0"/>
<text transform="translate(353.20,593.15)" font-size="8.6" text-anchor="start" font-weight="normal" font-style="normal" fill="#2a2a2a" >−0.4</text>
<line x1="346.60" y1="619.50" x2="349.80" y2="619.50" stroke="#000" stroke-width="1.0"/>
<text transform="translate(353.20,622.50)" font-size="8.6" text-anchor="start" font-weight="normal" font-style="normal" fill="#2a2a2a" >−0.6</text>
<line x1="346.60" y1="648.85" x2="349.80" y2="648.85" stroke="#000" stroke-width="1.0"/>
<text transform="translate(353.20,651.85)" font-size="8.6" text-anchor="start" font-weight="normal" font-style="normal" fill="#2a2a2a" >−0.8</text>
<line x1="346.60" y1="678.20" x2="349.80" y2="678.20" stroke="#000" stroke-width="1.0"/>
<text transform="translate(353.20,681.20)" font-size="8.6" text-anchor="start" font-weight="normal" font-style="normal" fill="#2a2a2a" >−1</text>
<rect x="0.75" y="0.75" width="518.5" height="689.5" fill="none" stroke="#000" stroke-width="1.6"/>
</svg>
</body></html>
